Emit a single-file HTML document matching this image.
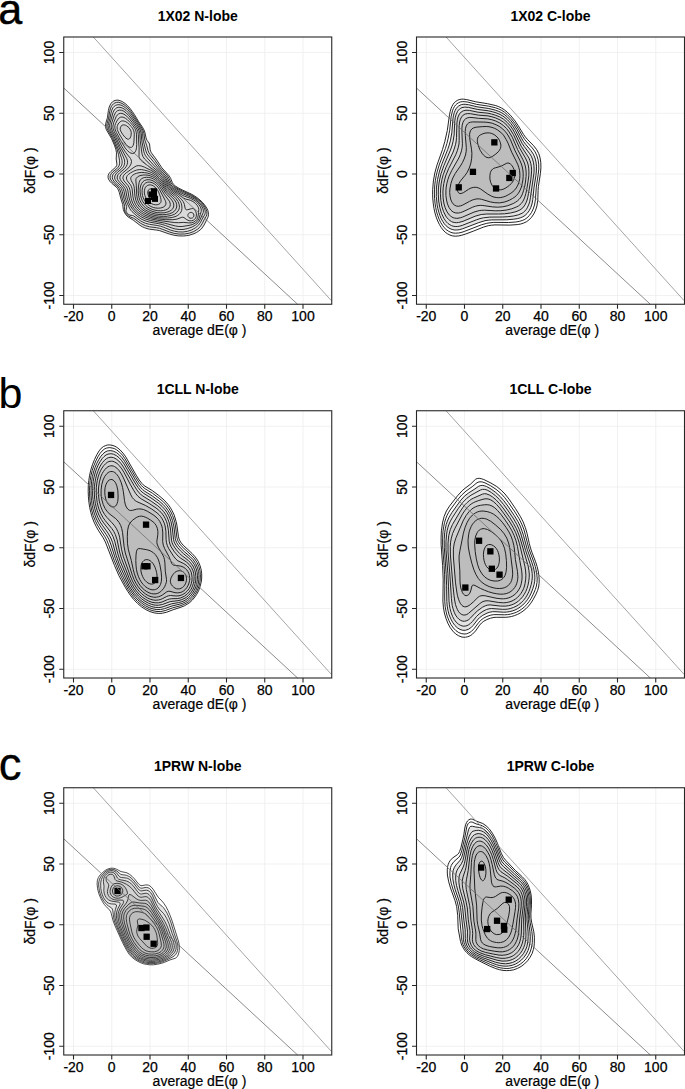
<!DOCTYPE html>
<html><head><meta charset="utf-8"><style>
html,body{margin:0;padding:0;background:#fff;}
svg{display:block;}
text{font-family:"Liberation Sans",sans-serif;fill:#000;}
.tl{font-size:14px;stroke:#000;stroke-width:0.25px;}
.al{font-size:14px;stroke:#000;stroke-width:0.2px;}
.ti{font-size:14px;font-weight:bold;}
.pl{font-size:43px;}
</style></head><body>
<svg width="685" height="1089" viewBox="0 0 685 1089">
<rect width="685" height="1089" fill="#fff"/>
<path d="M73.5 37V304.25M111.75 37V304.25M150 37V304.25M188.25 37V304.25M226.5 37V304.25M264.75 37V304.25M303 37V304.25M63.75 295.5H331.75M63.75 234.75H331.75M63.75 174H331.75M63.75 113.25H331.75M63.75 52.5H331.75" stroke="#eeeeee" stroke-width="0.8" fill="none"/>
<path d="M183.3 236l2.9-.3 2.8-.4 5-1.6 2.5-1.2 2-1.3 1.9-1.4 1.6-1.7 2.1-3.1 3.6-7.2 .6-1.6 .2-1.7-.1-2-.5-2-.9-2-1.7-2.7-2.4-3-2.9-2.8-3.1-2.5-2.7-1.8-3-1.7-9-4.1-4-2.1-3-1.9-1.8-1.7-1-1.4-1.7-4.3-1.4-2.5-7.4-8.2-5.1-7.7-5.4-7.3-.8-1.6-.4-1.4-.7-5.8-.5-1-1.8-2.5-.8-1.5-.5-1.8-.9-4.4-1-2.8-1.5-2.8-3.9-5.7-4.1-6.8-2.3-3.4-2.2-2.9-2.5-2.8-2.5-2.2-2.5-1.7-2.3-1-2.2-.6-2 .1-2 .6-1.5 1-1.3 1.4-1.1 1.8-.9 2.1-.8 3.4-1 7.3-1.7 5.7-.2 2.5 .2 1.8 .7 2 5.3 9 2.7 6.4 1.4 4 .7 3.6-.3 6.2 .7 5.2-.3 1.6-1 1.4-4.8 4.3-1.6 1.7-1 2-.2 2 .5 2 1.3 2 1.9 2 4.7 4 1.1 1.3 .9 1.5 .8 2.2 1.8 7 1.7 5.3 .6 5 1 2.7 1.7 2.7 2.2 2.1 5 3.1 6.8 5.2 2.2 1.4 2.6 1.1 2.2 .8 2.5 .6 7.3 .9 3 .6 9.5 3.3 4.5 1.2 4.7 .7 4.7 .1z" fill="#e6e6e6" stroke="none"/>
<path d="M183 229.5l4.2-.8 4.8-1.6 3.5-2 2.6-2.3 1.8-2.8 3.4-7.5 .1-1.3-.1-1.2-.4-1.5-.7-1.5-1.4-2.2-1.8-2-2.2-2-2.4-1.8-4.1-2.2-6.8-2.7-2.7-1.3-7.6-4.5-1.6-1.3-1.4-1.3-1.5-2.2-2.8-5.3-1.7-2.4-2.1-2.3-6.8-6.5-8.2-9.2-1.9-2.6-.7-1.6-.6-1.8-1.9-9.8-.4-2.8-.3-5.4-.7-2.8-.8-2-1.1-2-6.2-9-2.3-3.1-2-2.3-2.2-2.2-2-1.5-2-1-2-.6-1.8 0-1.7 .6-1 .7-1.1 1.2-.7 1.2-.8 1.8-3.1 11.2-.2 1.8 .1 1.7 .4 1.5 .7 1.8 4.1 7.4 8.5 18.8 1.1 3 .2 2.5-.4 2.3-.9 2-1.7 2-4.2 3.4-1.6 1.8-1.1 2-.2 2 .5 1.5 .9 1.5 1.4 1.5 3.9 3.7 1.8 2.6 .9 2.4 1.2 6.1 1 3.5 1.4 3.4 2.3 4.6 .9 1.4 1.1 1.3 5.3 4.7 3.8 2.7 4 1.9 4.8 1.4 9 1.5 3.4 .8 3.2 1 6.5 2.5 3.3 1 4 .5 3.8 0z" fill="#dadada" stroke="none"/>
<path d="M128.6 139.2l.6-.2 .8-.8 .7-1.4 .4-1.6 .2-2.7-.7-2.5-1.6-2.3-2.3-1.9-1.2-.6-1.3-.3-1 0-1 .3-1.2 1-.7 1.6-.1 1.7 .7 2 1.6 2.7 2.5 3.1 2 1.6 .8 .3 .7 .1zM167.3 216.2l3.9-.7 3.3-1.2 2.4-1.8 1.7-2.3 .5-1.2 .3-1.5 0-1.5-.2-1.5-1.2-3-1.9-2.7-2.2-2.3-4.7-3.8-2-2-1.7-2.2-4-6-2.5-3-2.8-2.4-3-1.9-2.7-1.2-3-.9-3-.5-2.7-.2-2.8 .3-2.5 .6-2.3 .9-1.9 1.3-.8 .9-.5 .8-.3 1 .1 1 .5 1.6 1.9 3.3 .8 2.1 .3 2.3 .6 7.5 .9 4.2 1.5 3.6 2.3 3.2 2.4 2.4 2.8 2 3 1.7 3.4 1.4 3.9 1 4.1 .7 4.3 .2 3.7-.1z" fill="#d0d0d0" stroke="none"/>
<path d="M183.3 236l2.9-.3 2.8-.4 5-1.6 2.5-1.2 2-1.3 1.9-1.4 1.6-1.7 2.1-3.1 3.6-7.2 .6-1.6 .2-1.7-.1-2-.5-2-.9-2-1.7-2.7-2.4-3-2.9-2.8-3.1-2.5-2.7-1.8-3-1.7-9-4.1-4-2.1-3-1.9-1.8-1.7-1-1.4-1.7-4.3-1.4-2.5-7.4-8.2-5.1-7.7-5.4-7.3-.8-1.6-.4-1.4-.7-5.8-.5-1-1.8-2.5-.8-1.5-.5-1.8-.9-4.4-1-2.8-1.5-2.8-3.9-5.7-4.1-6.8-2.3-3.4-2.2-2.9-2.5-2.8-2.5-2.2-2.5-1.7-2.3-1-2.2-.6-2 .1-2 .6-1.5 1-1.3 1.4-1.1 1.8-.9 2.1-.8 3.4-1 7.3-1.7 5.7-.2 2.5 .2 1.8 .7 2 5.3 9 2.7 6.4 1.4 4 .7 3.6-.3 6.2 .7 5.2-.3 1.6-1 1.4-4.8 4.3-1.6 1.7-1 2-.2 2 .5 2 1.3 2 1.9 2 4.7 4 1.1 1.3 .9 1.5 .8 2.2 1.8 7 1.7 5.3 .6 5 1 2.7 1.7 2.7 2.2 2.1 5 3.1 6.8 5.2 2.2 1.4 2.6 1.1 2.2 .8 2.5 .6 7.3 .9 3 .6 9.5 3.3 4.5 1.2 4.7 .7 4.7 .1zM184.7 234l4.8-.9 4.3-1.6 3.7-2.3 1.7-1.4 1.3-1.6 1.6-2.4 2-4 2.1-3.6 .6-1.4 .1-1.6-.1-1.7-.5-1.7-.9-2-1.6-2.6-2.3-2.7-2.7-2.5-2.9-2.2-5-3-8.4-3.7-4.3-2.2-4-2.5-2.1-1.9-1.1-1.6-1.9-4.4-1.5-2.5-1.6-2-5.9-6.2-5.3-7.5-4.5-5.5-1.4-2-.9-2.3-1.4-5.3-1.8-5.2-.9-6.8-1-3-1.7-3.2-9-13.7-2.2-3-2.2-2.5-2.6-2.3-2.2-1.5-2.2-1.1-2.3-.6-2 .1-1.7 .6-1.3 .8-1.3 1.4-1 1.6-.8 2-.8 3-1 6.4-1.6 5.6-.2 2.7 .3 1.7 .7 1.8 4.8 8.5 4.6 11 1.3 5 1.1 6.3 .1 2.4-.5 2.3-1.1 1.7-1.4 1.6-4 3.2-1.5 1.8-.9 1.7-.2 2 .4 1.7 1.3 2 1.7 1.8 4.5 4 1.2 1.5 .8 1.5 .7 2 1.7 7 2 6 .2 1.5-.1 3.3 .3 1.3 .6 1.4 1.4 2 2 1.6 1.4 .8 3.6 1.4 6.7 4.9 2.5 1.4 2.5 1.1 4 1.1 7 .9 3 .6 2.7 .9 7.6 2.9 4.4 1.3 5.3 .7 5-.1zM183 232l4.5-.7 4.3-1.4 4-2.3 3-2.7 1.8-2.7 2.1-4.2 1.8-3 .5-1.2 .3-1.6-.2-1.4-.4-1.6-.8-1.7-1.4-2.3-2.1-2.4-2.4-2.3-2.9-2.3-4.6-2.6-7.3-3-3.4-1.7-6-3.6-1.6-1.1-1.2-1.2-1.3-2-2.4-5-1.5-2.2-7.8-8.3-5-6.3-4.4-5.2-1.6-2.2-1.2-3-2.4-9.6-.4-2.4-.4-5.3-.8-3-1.8-3.5-8-12-2.2-2.9-2-2.3-2.3-2-2.3-1.6-2.2-1.1-2-.4-1.8 .1-1.7 .6-1.3 .9-1 1.1-.9 1.6-.7 1.8-.6 2.2-1.1 5.5-1.5 5.3-.3 1.7 .1 1.5 .3 1.5 .7 1.7 4.4 8 5.4 12.6 2.7 8 .4 2 .1 2-.5 2.4-1.2 2-1.5 1.7-4.2 3.5-1.6 1.8-.8 1.8-.1 1.8 .4 1.4 1.1 1.8 1.5 1.8 4.4 4 1.2 1.4 .8 1.6 .6 2 1.8 7.4 2.5 7.3 0 1.3-.6 2.4 .1 1 .4 1 1 1.4 1.3 1 1.2 .6 2.5 .3 1 .3 7 5 2.5 1.4 2.8 1.2 3.7 .9 7.7 1.2 3.3 .7 3 1 6.8 2.8 4.1 1.2 4.1 .7 4.3 .1zM183 229.5l4.2-.8 4.8-1.6 3.5-2 2.6-2.3 1.8-2.8 3.4-7.5 .1-1.3-.1-1.2-.4-1.5-.7-1.5-1.4-2.2-1.8-2-2.2-2-2.4-1.8-4.1-2.2-6.8-2.7-2.7-1.3-7.6-4.5-1.6-1.3-1.4-1.3-1.5-2.2-2.8-5.3-1.7-2.4-2.1-2.3-6.8-6.5-8.2-9.2-1.9-2.6-.7-1.6-.6-1.8-1.9-9.8-.4-2.8-.3-5.4-.7-2.8-.8-2-1.1-2-6.2-9-2.3-3.1-2-2.3-2.2-2.2-2-1.5-2-1-2-.6-1.8 0-1.7 .6-1 .7-1.1 1.2-.7 1.2-.8 1.8-3.1 11.2-.2 1.8 .1 1.7 .4 1.5 .7 1.8 4.1 7.4 8.5 18.8 1.1 3 .2 2.5-.4 2.3-.9 2-1.7 2-4.2 3.4-1.6 1.8-1.1 2-.2 2 .5 1.5 .9 1.5 1.4 1.5 3.9 3.7 1.8 2.6 .9 2.4 1.2 6.1 1 3.5 1.4 3.4 2.3 4.6 .9 1.4 1.1 1.3 5.3 4.7 3.8 2.7 4 1.9 4.8 1.4 9 1.5 3.4 .8 3.2 1 6.5 2.5 3.3 1 4 .5 3.8 0zM182.1 226.5l6.9-1.1 3.2-.8 2.8-1.3 2-1.7 1-1.4 1-1.7 2.2-7 .1-1.3-.1-1.2-1-2.5-1.2-1.7-1.5-1.8-1.7-1.5-2.1-1.5-3.5-1.8-5.7-2-2.3-1-9-5.7-2.4-1.7-1.3-1.3-1.1-1.5-3.6-6.3-2.5-3.2-2.5-2.5-7.1-6-8.1-8-1.7-2.5-.9-2.7-1.8-13.3-.4-7.3-.7-2.4-1.1-2.6-2-3-5.2-7.2-2.3-2.7-2.3-2.3-2.4-1.8-2.3-.9-2-.2-2 .6-1 .8-.9 1-1.5 3-2.7 8.5-.2 2 .1 2 1.1 3.2 3.5 6.3 4.1 8.8 6.6 11.9 .7 2 .3 2-.4 2.3-1.1 2.3-1.6 2-4.5 3.7-1.7 1.7-.9 1.8-.3 2 .5 1.5 .9 1.5 4.8 5 1.7 2.5 .9 2.5 1 5.8 .8 3 1 3 1.4 2.7 2.7 4 3.7 3.9 4.3 3.2 4.4 2.3 5.3 1.6 14 2.6 11 2.9 3.3 .5 3.2 0zM191.6 222.8l1.9-.6 1.9-1.2 1.4-1.5 .9-2 .6-2.5 .5-5.5-.3-1.7-1-2-1.9-2.3-2.6-2-2.8-1.3-4.4-1.1-2-.9-13-9.1-1.5-1.3-1.3-1.5-4.7-7.5-3.1-3.6-3.4-2.9-14-10.3-2.2-2-1.2-1.8-.4-1.7 .1-8.7-.6-8-.2-5.3-.4-2.7-1-2.6-1.7-2.8-3-4-3.4-4.2-2.6-2.4-2.2-1.6-2-.8-1.8-.1-1.7 .7-1.3 1.1-1 1.5-2.6 6.2-.7 3.2 0 1.5 .3 1.5 1.1 2.8 3.1 5.7 4.6 9.2 3.5 5.5 5 6.3 .7 1.5 .3 1.5-.4 2.3-1.3 2.4-2.1 2.6-4.9 4-1.5 1.4-1.2 2-.2 1 0 1 .4 1.3 .9 1.5 4.3 4.8 1.6 2.4 .8 2.6 1 6.2 .8 3.2 1.3 3.4 1.8 3.2 1.5 2 1.8 2 1.9 1.7 2.3 1.7 2.2 1.5 2.5 1.2 5.2 1.9 7.6 1.5 17 2.3 3.7 .1 5.3-.3 5 .5 2.7-.1zM132.9 153.5l1.3-.5 1-1.1 .8-1.7 .5-2.4 .2-3.3-.2-9.7-.2-2-.5-2-1-2.4-1.8-2.6-2.8-3.3-2.7-2.7-2-1.5-1.7-.9-1.8-.4-1.5 .2-1.3 .7-1.2 1.3-1.2 1.9-1.2 2.4-.6 1.7-.2 1.6 .1 1.4 .4 1.8 1.1 2.5 5.6 10.4 3.2 5.1 2 2.4 2 1.8 1.8 1 1.8 .3zM191.7 220.8l1.5-.5 1.3-.9 1-1.2 .7-1.4 .2-1.8-.1-1.8-.6-1.7-.9-1.7-1-.9-1-.4-1.3 .2-4.3 1.1-.7 0-.7-.3-.7-1.3-.7-3.7-.5-1.5-.8-1.5-1.3-1.7-2.1-2.3-2.2-2-6.7-4.9-2-1.8-1.9-2.3-3.7-5.6-2-2.7-2.7-2.8-3.3-2.4-4.7-2.9-6.3-3.1-3.2-1.1-2.8-.3-2 .4-2.2 1.3-7.7 5.5-1.5 1.2-1 1.2-.8 1.8-.1 1 .2 1 1 2 3.9 4.5 1.3 2.3 .7 2.4 1.2 8.3 .7 2.5 .9 2.2 1.6 2.8 2.1 2.7 2.5 2.5 2.7 2 3.3 2 3.8 1.5 4.2 1.3 4.8 .9 8 .8 7 0 4.2-.6 4.8-1.8 1-.1 1.2 .4 2.5 1.9 1.5 .8 1.8 .5 1.7 0zM131.6 147.2l.9-.6 .6-1.1 .5-1.5 .3-1.8 .4-8-.2-2-.6-2-1-2-1.3-1.7-1.7-1.9-2-1.8-1.7-1.1-1.6-.6-1.4-.2-1.6 .2-1 .7-1.1 1-1 1.2-.6 1.4-.4 1.4 0 1.2 .2 1.5 .5 1.4 1.2 2.6 4.2 7 2.8 3.9 1.5 1.6 1.5 1 1.2 .4 1.3-.1zM167.6 218l4.6-.5 3.8-1.2 1.5-.8 1.4-1 1.2-1.3 .9-1.2 .6-1.5 .3-1.7 0-1.8-.2-2-.5-1.8-.8-1.7-2.3-3.3-2.6-2.4-5.5-4.2-2-1.9-1.8-2.2-4.4-6.7-2.8-3.1-3.2-2.7-4-2.3-3.6-1.5-3.4-1-3-.6-2.6 0-2.7 .5-2.7 1-3.1 1.7-2.4 1.7-1.1 1.2-.5 1.1-.3 1.2 .2 1.2 .7 1.6 3.2 4 1 2 .7 2.4 .7 7.3 .8 3.7 1.7 4 1.3 2 1.4 1.8 2.6 2.5 2.8 2 3.3 1.8 3.4 1.4 4 1.1 4.3 .8 4.5 .4 4.5 0zM191.4 218.2l1.1-.3 .8-.7 .5-1 .1-1.2-.4-1.2-.7-.8-1-.5-1-.1-1.3 .4-.9 .7-.6 1-.1 1 .3 1.2 .8 .9 1 .5 1.2 .2zM128.6 139.2l.6-.2 .8-.8 .7-1.4 .4-1.6 .2-2.7-.7-2.5-1.6-2.3-2.3-1.9-1.2-.6-1.3-.3-1 0-1 .3-1.2 1-.7 1.6-.1 1.7 .7 2 1.6 2.7 2.5 3.1 2 1.6 .8 .3 .7 .1zM167.3 216.2l3.9-.7 3.3-1.2 2.4-1.8 1.7-2.3 .5-1.2 .3-1.5 0-1.5-.2-1.5-1.2-3-1.9-2.7-2.2-2.3-4.7-3.8-2-2-1.7-2.2-4-6-2.5-3-2.8-2.4-3-1.9-2.7-1.2-3-.9-3-.5-2.7-.2-2.8 .3-2.5 .6-2.3 .9-1.9 1.3-.8 .9-.5 .8-.3 1 .1 1 .5 1.6 1.9 3.3 .8 2.1 .3 2.3 .6 7.5 .9 4.2 1.5 3.6 2.3 3.2 2.4 2.4 2.8 2 3 1.7 3.4 1.4 3.9 1 4.1 .7 4.3 .2 3.7-.1zM166.3 214.5l3.2-.7 2.7-1.1 2.2-1.5 1.5-2 .8-2.2 0-2.2-.7-2.6-1.6-2.4-1.7-2-4.5-4-1.7-1.9-5-7.3-2.3-2.9-2.2-2.2-2.5-1.8-2-1-2.3-.9-2.2-.6-2.5-.2-2.3 0-2.2 .4-2 .6-1.6 1-1.2 1.3-.4 1.7 .5 5.2 .4 9.6 .5 3.2 .8 2.8 1.2 2.4 1.5 2.3 2.1 2.3 2.4 2 3 1.7 3.3 1.4 3.5 1 3.8 .6 3.7 .2 3.7-.2zM164.1 212.8l2.8-.6 2.3-.8 2-1.2 1.6-1.5 .8-1.7 .2-2-.3-2-1.2-2.2-1.5-2-5.2-5.6-4.4-6.7-1.7-2.4-2-2.2-2-1.6-1.7-1.1-1.8-.9-1.8-.6-2-.3-1.7-.1-1.7 .2-1.6 .4-1.4 .7-1.6 1.4-1 2.2-.7 3.8-.3 4.2 .2 3.8 .7 3.8 1 3 1.5 2.7 1.8 2.3 2.1 1.9 2.5 1.7 2.8 1.4 3.2 1.1 3.2 .7 3.6 .3 3.2-.1zM161 210.8l2.5-.3 2.3-.6 1.8-.9 1.5-1.2 .9-1.6 .3-1.4-.2-1.8-.7-1.8-4.9-6.5-5-8.2-1.7-2.1-1.8-1.6-3-2-3-1-3-.1-2.5 .8-1.7 1.3-1.2 1.7-1 2.5-.5 2.8 0 3.2 .4 3.2 .8 3 1.2 2.9 1.4 2.1 1.6 1.9 2 1.8 2.3 1.4 2.4 1.1 2.8 .8 2.8 .5 3 .1zM160.6 208l2.4-.7 1.7-1.1 1-1.4 .3-1.8-.3-1.2-.6-1.6-5.6-10.7-1.5-2.3-1.5-1.7-1.7-1.4-1.8-1.1-2-.7-1.8-.2-1.8 .1-1.6 .7-1.6 1.3-1 1.6-.7 2-.4 2.4 0 2.6 .4 2.7 .8 2.5 1.2 2.4 1.3 1.8 1.6 1.8 1.8 1.4 2 1.2 2.3 .9 2.3 .5 2.4 .2 2.3-.2zM157.1 204.8l1.7-.5 1.2-.8 .7-1 .4-1.3-.1-1.7-.4-2-.9-2.7-1.1-2.8-1.1-2-1.3-1.7-1.2-1.2-1.4-1.1-1.6-.8-1.5-.3-1.5 0-1.2 .4-1.3 .8-1 1.1-.7 1.6-.3 1.4-.2 1.8 .2 2 .5 1.8 .8 1.9 .8 1.5 1.2 1.6 1.2 1.2 1.5 1.1 1.5 .8 1.8 .6 1.7 .3 1.5 0zM154.4 199.8l1.2-.8 .7-1.5 0-2.3-.6-2.2-1.2-2-1.5-1.4-1.8-.7-1.4 .1-1.3 .9-.7 1.6-.1 2 .6 2 1 1.7 1.5 1.6 1.7 .8 1.7 .2z" fill="none" stroke="#111111" stroke-width="0.85"/>
<rect x="150.9" y="188.2" width="6.1" height="6.1" fill="#000"/><rect x="148.4" y="191.4" width="6.1" height="6.1" fill="#000"/><rect x="151.9" y="195.8" width="6.1" height="6.1" fill="#000"/><rect x="144.9" y="197.9" width="6.1" height="6.1" fill="#000"/><rect x="150.9" y="193.9" width="6.1" height="6.1" fill="#000"/>
<path d="M93.3 37L331.4 300.7" stroke="#8e8e8e" stroke-width="0.8" fill="none"/>
<path d="M63.75 88L297.6 304.25" stroke="#6e6e6e" stroke-width="0.8" fill="none"/>
<rect x="63.75" y="37" width="268" height="267.25" fill="none" stroke="#262626" stroke-width="1.1"/>
<path d="M73.5 304.25v4.5M111.75 304.25v4.5M150 304.25v4.5M188.25 304.25v4.5M226.5 304.25v4.5M264.75 304.25v4.5M303 304.25v4.5M63.75 295.5h-4.5M63.75 234.75h-4.5M63.75 174h-4.5M63.75 113.25h-4.5M63.75 52.5h-4.5" stroke="#262626" stroke-width="1.1" fill="none"/>
<text x="73.5" y="320.75" class="tl" text-anchor="middle">-20</text>
<text x="111.75" y="320.75" class="tl" text-anchor="middle">0</text>
<text x="150" y="320.75" class="tl" text-anchor="middle">20</text>
<text x="188.25" y="320.75" class="tl" text-anchor="middle">40</text>
<text x="226.5" y="320.75" class="tl" text-anchor="middle">60</text>
<text x="264.75" y="320.75" class="tl" text-anchor="middle">80</text>
<text x="303" y="320.75" class="tl" text-anchor="middle">100</text>
<text transform="translate(54.25 295.5) rotate(-90)" class="tl" text-anchor="middle">-100</text>
<text transform="translate(54.25 234.75) rotate(-90)" class="tl" text-anchor="middle">-50</text>
<text transform="translate(54.25 174) rotate(-90)" class="tl" text-anchor="middle">0</text>
<text transform="translate(54.25 113.25) rotate(-90)" class="tl" text-anchor="middle">50</text>
<text transform="translate(54.25 52.5) rotate(-90)" class="tl" text-anchor="middle">100</text>
<text x="199.55" y="334.75" class="al" text-anchor="middle">average dE(φ )</text>
<text transform="translate(34.75 170.62) rotate(-90)" class="al" text-anchor="middle">δdF(φ )</text>
<text x="197.75" y="20.7" class="ti" text-anchor="middle">1X02 N-lobe</text>
<path d="M426.25 37V304.25M464.5 37V304.25M502.75 37V304.25M541 37V304.25M579.25 37V304.25M617.5 37V304.25M655.75 37V304.25M416.5 295.5H684.5M416.5 234.75H684.5M416.5 174H684.5M416.5 113.25H684.5M416.5 52.5H684.5" stroke="#eeeeee" stroke-width="0.8" fill="none"/>
<path d="M456.9 230l2.9-.4 3-.9 16-6.1 6.2-1.9 3.2-.5 3.6-.3 15-.1 7-.6 3.4-.5 3-.8 2.6-1.1 2.2-1.3 2.2-2.1 2-2.7 1.6-3.2 1.2-3.5 .8-4.5 1.2-11.7 1.9-12 .5-4.8 .1-4.8-.5-4.2-1-4-1.6-3.8-2.5-3.7-5.1-6-2.3-3-2-3.4-4.7-8.9-3-4.7-3-3.9-3.3-3.5-2.7-2.3-3-2-3-1.4-3.6-1.3-6.4-1.6-11.8-1.7-8.5-2.1-3.3-.4-2 0-1.7 .3-1.5 .6-1.5 .9-1.3 1.1-1.2 1.6-.9 1.7-.8 2-.8 2.7-.5 3-1.2 14.6-1.3 7.4-1.3 4.8-1.5 4.5-5.9 14.7-2.3 6.8-2 8.5-1.1 8.5-.1 8.5 .8 8.3 .7 3.7 1 3.7 1.2 3.6 1.2 2.9 1.6 2.8 1.5 2.3 1.8 2 1.9 1.6 2 1.2 2.2 .9 2.3 .5 2.3 0z" fill="#e4e4e4" stroke="none"/>
<path d="M458.7 222.5l4.3-1.2 12.2-5.1 6-1.7 5.6-.5 11.7 0 6-.2 6-.8 5.5-1.3 3.9-1.7 2.9-2.1 2.2-3 1.8-3.9 .9-3.2 .8-4.3 2.3-13.7 .6-5.8 .2-3.8-.2-3.4-.6-3.3-.9-3-.9-2.3-1.4-2.4-6.4-9.6-6.5-13.4-2-3.6-2.2-3.1-3.3-3.7-3.6-3.2-3.8-2.3-4.6-1.8-3.6-1.1-3.6-.8-10-1-8.5-1.8-3.5-.2-2.7 .6-2.1 1.2-1.8 2-1.4 3-.7 2.8-.4 3.2-.4 14.5-.3 3.5-.6 3.2-1.1 3.8-1.4 4-7.1 15.2-2.8 7.5-1.2 4.5-.9 4.8-.5 5-.2 4.8 .4 6.4 1 6 1.7 5.3 2.2 4.5 1.3 1.8 1.5 1.6 1.5 1.2 1.5 1 1.5 .6 1.8 .4 1.7 .1 2-.2z" fill="#d2d2d2" stroke="none"/>
<path d="M458.6 213l1.9-.4 2.3-.8 10-4.7 2.7-.9 2.5-.6 2.2-.2 2.6 .1 9.7 1.4 5 .3 5.3-.4 5-1.1 5.5-2.2 2.3-1.3 1.9-1.3 1.5-1.4 1.3-1.5 1.2-2 1-2.2 1.2-3.6 1.1-4.2 .8-5 .5-4.5 .1-3.7-.3-3.6-.6-3.2-.9-3-1.7-3.8-5.1-9.7-5.3-12.3-3.1-5.2-2.7-3.6-3.3-3-3.4-2.4-4-2-4-1.3-4-.8-9.3-.6-6.5-.8-2.2-.1-2.3 .4-2 1-1.4 1.4-1.1 2-.8 2.8-.3 3.2 0 4 .5 11.6-.2 3.4-.7 3.6-1.1 3.4-1.6 3.8-7 12.3-2.8 5.9-1.2 3.6-.9 3.4-.7 3.8-.3 3.8 0 4.7 .6 4.5 1 4.1 1.5 3.4 2 2.8 2.2 1.8 2.6 .9 2.7 0z" fill="#c6c6c6" stroke="none"/>
<path d="M458.6 206.2l1.9-.3 2-.7 7-3.8 2.7-1.3 2.6-.8 2.2-.4 2.2 0 2.3 .4 8.7 2.6 4.6 .8 4.7 .2 4.7-.8 2.8-.9 2.8-1.2 2.7-1.5 2.3-1.5 1.7-1.5 1.5-1.7 1.2-1.8 1-2 1.2-3 .8-3.3 .7-3.7 .3-3.5 0-3.3-.3-3.2-.6-3-.9-3-1.6-3.8-4.7-9.4-4.6-11-2.6-4.8-2.4-3.2-2.7-2.8-3-2.3-3.6-1.9-4-1.6-4.2-.8-3-.3-12.2-.2-2.3 .3-1.7 .6-1.4 1.2-1.1 1.8-.8 2.4-.3 3.3 .1 4 1 12-.1 3.7-.7 3.8-1.4 4-1.8 3.8-1.9 3.2-5.2 7.5-2.4 4.5-1 2.7-.9 2.8-1 5.5-.2 3.5 .3 3.5 .6 3 1.1 2.8 1.3 2 1.6 1.4 1.9 .9 2 .2z" fill="#bdbdbd" stroke="none"/>
<path d="M458.2 236l3-.6 4-1.2 8-3 10-4 5-1.5 3.3-.5 3.5-.3 14.8 .2 7.4-.5 3.6-.6 3-1 2.6-1.2 2.4-1.7 2.7-2.8 2.3-3.3 1.8-3.8 1.3-4.2 .9-5.8 .3-9.7 .3-4 2-13 .5-5.7-.1-5-.7-4.8-1.3-4.3-2-3.9-3.1-4-5.9-6-2.3-2.6-2-2.8-5.2-8.6-3.2-4.8-4.1-5.1-4-4-2.8-2.2-2.7-1.7-2.7-1.3-3-1.1-8.3-1.9-11.7-1.9-9-2.2-3.6-.5-2 .1-2 .4-1.7 .7-1.7 1.1-1.6 1.4-1.2 1.7-1.1 2-.9 2.3-.8 2.7-.7 3.3-2.2 15.7-2.5 11-2.3 8-5.5 15.6-2.2 7.9-1.4 8-.7 8.2-.1 5 .2 4.8 .5 4.8 .7 4.7 1 4.5 1.2 4.1 1.5 3.9 1.7 3.5 1.8 3 1.9 2.5 2.1 2.2 2.3 1.6 2.5 1.3 2.5 .8 2.7 .3 2.8-.2zM458.5 233l2.5-.5 3.2-1 17-6.6 5.6-1.6 3.2-.5 3.8-.4 14.7 .1 7.3-.5 3.4-.6 3-.9 2.6-1.1 2.2-1.6 2.4-2.3 2.1-3 1.7-3.5 1.3-4 .9-5.2 .9-12.8 1.9-12.5 .6-5.5-.1-4.8-.6-4.4-1.2-4-1.7-3.8-2.9-4-5.5-6-2-2.4-2-3-4.8-8.4-3-4.7-3.8-4.9-4-4.1-2.7-2.3-2.7-1.8-3-1.4-3.3-1.2-6.7-1.6-12-1.8-9-2.3-3.6-.5-2 .1-2 .3-1.7 .8-1.5 .9-1.4 1.3-1.1 1.5-1.1 2-.9 2.3-1.3 5.4-1.5 14-1.5 8-1.3 5.3-1.5 5-5.9 15.5-2.2 7.2-1.1 4.6-.8 4.4-.6 4.6-.3 4.4-.1 4.8 .2 4.5 .4 4.5 .7 4.5 .9 4.3 1.2 3.9 1.3 3.5 1.6 3.3 1.7 2.7 1.8 2.5 2 1.9 2.3 1.6 2.3 1.1 2.2 .7 2.5 .2 2.7-.2zM456.9 230l2.9-.4 3-.9 16-6.1 6.2-1.9 3.2-.5 3.6-.3 15-.1 7-.6 3.4-.5 3-.8 2.6-1.1 2.2-1.3 2.2-2.1 2-2.7 1.6-3.2 1.2-3.5 .8-4.5 1.2-11.7 1.9-12 .5-4.8 .1-4.8-.5-4.2-1-4-1.6-3.8-2.5-3.7-5.1-6-2.3-3-2-3.4-4.7-8.9-3-4.7-3-3.9-3.3-3.5-2.7-2.3-3-2-3-1.4-3.6-1.3-6.4-1.6-11.8-1.7-8.5-2.1-3.3-.4-2 0-1.7 .3-1.5 .6-1.5 .9-1.3 1.1-1.2 1.6-.9 1.7-.8 2-.8 2.7-.5 3-1.2 14.6-1.3 7.4-1.3 4.8-1.5 4.5-5.9 14.7-2.3 6.8-2 8.5-1.1 8.5-.1 8.5 .8 8.3 .7 3.7 1 3.7 1.2 3.6 1.2 2.9 1.6 2.8 1.5 2.3 1.8 2 1.9 1.6 2 1.2 2.2 .9 2.3 .5 2.3 0zM457.4 226.5l2.4-.4 2.4-.7 14-5.5 3.8-1.3 3.5-.8 6.3-.7 12.4-.1 5.6-.3 5.7-.7 4.7-1.1 3.8-1.6 1.5-1 1.4-1.3 1.3-1.5 1-1.6 1.8-3.9 .8-2.8 .6-3.4 3.6-25 .1-3.8-.2-3.5-.5-3.3-.9-3.1-1.2-2.9-1.5-2.4-5.6-7.3-2-3-6.7-13-2.3-3.7-2.2-3.1-3.5-3.9-3.5-3-3.8-2.3-4.2-1.7-3.8-1.1-4-.9-10.4-1.3-9.3-2.1-3.7-.3-2.8 .5-1.2 .6-1.3 .9-1 1-1 1.4-1.5 3.3-.7 2.7-.5 3.3-.7 14.2-1.1 6.8-1.1 4.2-1.5 4.2-6.6 15.6-2.8 8-1.2 5.1-.9 5.1-.5 5-.1 5.2 .4 6.8 1.1 6.5 1.7 5.9 2.3 4.8 1.3 2 1.4 1.8 1.5 1.5 1.8 1.2 1.7 .9 1.7 .6 2 .3 2 0zM458.7 222.5l4.3-1.2 12.2-5.1 6-1.7 5.6-.5 11.7 0 6-.2 6-.8 5.5-1.3 3.9-1.7 2.9-2.1 2.2-3 1.8-3.9 .9-3.2 .8-4.3 2.3-13.7 .6-5.8 .2-3.8-.2-3.4-.6-3.3-.9-3-.9-2.3-1.4-2.4-6.4-9.6-6.5-13.4-2-3.6-2.2-3.1-3.3-3.7-3.6-3.2-3.8-2.3-4.6-1.8-3.6-1.1-3.6-.8-10-1-8.5-1.8-3.5-.2-2.7 .6-2.1 1.2-1.8 2-1.4 3-.7 2.8-.4 3.2-.4 14.5-.3 3.5-.6 3.2-1.1 3.8-1.4 4-7.1 15.2-2.8 7.5-1.2 4.5-.9 4.8-.5 5-.2 4.8 .4 6.4 1 6 1.7 5.3 2.2 4.5 1.3 1.8 1.5 1.6 1.5 1.2 1.5 1 1.5 .6 1.8 .4 1.7 .1 2-.2zM458 218.2l2.2-.4 2.3-.7 11.5-5 5.2-1.5 2.6-.3 2.7-.1 10.7 .6 5.6-.1 5.4-.6 5.6-1.3 5-2 1.7-.9 1.5-1.2 1.3-1.2 1.2-1.6 1.1-1.9 .9-2.1 1.3-4.1 1.1-5.3 1.2-7.3 .7-5.4 .1-4-.2-3.6-.5-3.2-.9-3-2-4.2-5.8-10-6.1-13.3-3.4-5.5-3-3.7-3.2-2.9-3.8-2.5-4.2-1.9-3.8-1.2-4-.9-9.8-.8-7.7-1.4-2.7-.1-2.6 .4-2 1.1-1.5 1.7-1.3 2.4-.8 2.8-.4 3.5-.1 3.7 .1 11.3-.2 3.5-.7 3.2-1 3.6-1.6 4-6.9 13.5-2.8 6.7-1.2 4.1-1 4.4-.6 4.3-.3 4.2 .2 5.8 .7 5.2 1.4 4.8 1.8 4 2.2 3.1 1.3 1.1 1.4 1 1.3 .7 1.6 .4 1.4 .2 1.8 0zM458.6 213l1.9-.4 2.3-.8 10-4.7 2.7-.9 2.5-.6 2.2-.2 2.6 .1 9.7 1.4 5 .3 5.3-.4 5-1.1 5.5-2.2 2.3-1.3 1.9-1.3 1.5-1.4 1.3-1.5 1.2-2 1-2.2 1.2-3.6 1.1-4.2 .8-5 .5-4.5 .1-3.7-.3-3.6-.6-3.2-.9-3-1.7-3.8-5.1-9.7-5.3-12.3-3.1-5.2-2.7-3.6-3.3-3-3.4-2.4-4-2-4-1.3-4-.8-9.3-.6-6.5-.8-2.2-.1-2.3 .4-2 1-1.4 1.4-1.1 2-.8 2.8-.3 3.2 0 4 .5 11.6-.2 3.4-.7 3.6-1.1 3.4-1.6 3.8-7 12.3-2.8 5.9-1.2 3.6-.9 3.4-.7 3.8-.3 3.8 0 4.7 .6 4.5 1 4.1 1.5 3.4 2 2.8 2.2 1.8 2.6 .9 2.7 0zM458.6 206.2l1.9-.3 2-.7 7-3.8 2.7-1.3 2.6-.8 2.2-.4 2.2 0 2.3 .4 8.7 2.6 4.6 .8 4.7 .2 4.7-.8 2.8-.9 2.8-1.2 2.7-1.5 2.3-1.5 1.7-1.5 1.5-1.7 1.2-1.8 1-2 1.2-3 .8-3.3 .7-3.7 .3-3.5 0-3.3-.3-3.2-.6-3-.9-3-1.6-3.8-4.7-9.4-4.6-11-2.6-4.8-2.4-3.2-2.7-2.8-3-2.3-3.6-1.9-4-1.6-4.2-.8-3-.3-12.2-.2-2.3 .3-1.7 .6-1.4 1.2-1.1 1.8-.8 2.4-.3 3.3 .1 4 1 12-.1 3.7-.7 3.8-1.4 4-1.8 3.8-1.9 3.2-5.2 7.5-2.4 4.5-1 2.7-.9 2.8-1 5.5-.2 3.5 .3 3.5 .6 3 1.1 2.8 1.3 2 1.6 1.4 1.9 .9 2 .2zM500.9 197.5l2.3-.5 2.6-.9 2.4-1.3 2.6-1.5 2.2-1.7 1.8-1.7 1.4-1.8 1.1-1.9 1-2.2 .9-2.8 .5-2.7 .2-2.7-.1-2.8-.3-2.8-.7-2.7-.9-2.7-1.7-3.7-4.5-8.9-3.7-9.1-1.8-3.6-2.7-4.3-1.7-1.9-1.8-1.5-2.5-1.9-2.7-1.5-2.8-1-3-.7-2.8-.2-3.4 .1-6.6 .6-2.7 .7-1.5 .9-1.2 1.4-.8 1.8-.4 2.2 .2 4.8 1.7 10.2 .4 4.3-.2 4.7-.8 4.8-1.6 5-2.1 4.3-2 2.9-4.7 5.7-1.8 3.1-.8 2-.4 2-.1 2 .4 1.5 .5 1 .8 .7 .9 .4 1.2-.1 2.3-.9 5-3.3 2.5-1.3 2.8-.7 2.4 0 2 .5 2 .9 7.7 5.5 3.9 2.1 2.2 .8 2.2 .4 2.3 .2 2.3-.2zM488.8 157.8l1.7-.4 2.3-1.2 3-2.2 2.5-2.2 1.2-1.6 .9-1.7 .4-1.7 .1-1.8-.5-2.2-1-2.6-1.4-2.2-2-2-2-1.5-2.2-1-2.3-.6-2.5 0-2 .2-2.2 .7-2 .9-1.6 1-.9 1.1-.6 1.2-.3 1.5-.1 1.7 .5 2.8 1 3 1.4 3.3 1.8 2.9 1.5 1.9 1.7 1.5 1.8 .9 1.8 .3zM501 189.8l2-.5 2-.9 2.2-1.4 2.3-1.7 1.7-1.7 1.3-1.6 1-1.7 .7-1.8 .5-2.3 .1-2.2-.2-2.2-.6-2.3-1-2.3-1.2-1.9-1.3-1.2-1.5-.9-1-.2-1.2 .2-5.7 3-5.7 1.6-1.6 .5-1.1 .7-.9 .9-.8 1.2-.6 1.4-.5 3 0 3.5 .7 3.2 1.4 3 1.8 2.2 2 1.5 2.4 .8 2.6 .1z" fill="none" stroke="#111111" stroke-width="0.92"/>
<rect x="491.2" y="139.2" width="6.3" height="6.3" fill="#000"/><rect x="469.8" y="168.7" width="6.3" height="6.3" fill="#000"/><rect x="455.6" y="184.2" width="6.3" height="6.3" fill="#000"/><rect x="492.9" y="185.3" width="6.3" height="6.3" fill="#000"/><rect x="509.6" y="169.9" width="6.3" height="6.3" fill="#000"/><rect x="506.2" y="174.8" width="6.3" height="6.3" fill="#000"/>
<path d="M446.05 37L684.15 300.7" stroke="#8e8e8e" stroke-width="0.8" fill="none"/>
<path d="M416.5 88L650.35 304.25" stroke="#6e6e6e" stroke-width="0.8" fill="none"/>
<rect x="416.5" y="37" width="268" height="267.25" fill="none" stroke="#262626" stroke-width="1.1"/>
<path d="M426.25 304.25v4.5M464.5 304.25v4.5M502.75 304.25v4.5M541 304.25v4.5M579.25 304.25v4.5M617.5 304.25v4.5M655.75 304.25v4.5M416.5 295.5h-4.5M416.5 234.75h-4.5M416.5 174h-4.5M416.5 113.25h-4.5M416.5 52.5h-4.5" stroke="#262626" stroke-width="1.1" fill="none"/>
<text x="426.25" y="320.75" class="tl" text-anchor="middle">-20</text>
<text x="464.5" y="320.75" class="tl" text-anchor="middle">0</text>
<text x="502.75" y="320.75" class="tl" text-anchor="middle">20</text>
<text x="541" y="320.75" class="tl" text-anchor="middle">40</text>
<text x="579.25" y="320.75" class="tl" text-anchor="middle">60</text>
<text x="617.5" y="320.75" class="tl" text-anchor="middle">80</text>
<text x="655.75" y="320.75" class="tl" text-anchor="middle">100</text>
<text transform="translate(407 295.5) rotate(-90)" class="tl" text-anchor="middle">-100</text>
<text transform="translate(407 234.75) rotate(-90)" class="tl" text-anchor="middle">-50</text>
<text transform="translate(407 174) rotate(-90)" class="tl" text-anchor="middle">0</text>
<text transform="translate(407 113.25) rotate(-90)" class="tl" text-anchor="middle">50</text>
<text transform="translate(407 52.5) rotate(-90)" class="tl" text-anchor="middle">100</text>
<text x="552.3" y="334.75" class="al" text-anchor="middle">average dE(φ )</text>
<text transform="translate(387.5 170.62) rotate(-90)" class="al" text-anchor="middle">δdF(φ )</text>
<text x="550.5" y="20.7" class="ti" text-anchor="middle">1X02 C-lobe</text>
<path d="M73.5 410.75V678M111.75 410.75V678M150 410.75V678M188.25 410.75V678M226.5 410.75V678M264.75 410.75V678M303 410.75V678M63.75 669.25H331.75M63.75 608.5H331.75M63.75 547.75H331.75M63.75 487H331.75M63.75 426.25H331.75" stroke="#eeeeee" stroke-width="0.8" fill="none"/>
<path d="M160.6 609.5l3.9-.8 7.5-2.7 7.2-1.7 3.6-1.1 2.4-1.2 2.3-1.4 2-1.6 2-2 2.3-3 2-3.4 1.5-3.6 1.1-4 .5-4 .1-3.8-.4-3.7-1-3.7-1.9-4.3-2.7-4-2.8-2.8-6-5.2-3-2.9-2.7-3.1-1.7-2.7-.9-2-.6-2.3-1.3-11.5-1.5-6.6-1.3-3.5-1.4-3.4-1.8-3-1.9-2.7-3.1-3.5-3.8-3.3-7-5.1-8-5-1.7-1.5-1.5-1.5-2.5-3.1-2.9-4.6-11.1-19-2.5-3.5-2.5-2.7-3-2.4-3.3-1.5-3-.5-1.4 .1-1.6 .3-2.2 1.1-2 1.7-2.1 2.4-2.1 3.3-2 3.8-1.8 4.2-1.5 4.5-1.1 4.5-.8 4.7-.4 4.8-.2 4.8 .1 5 .4 4.7 .7 4.8 1 4.6 1.3 4.2 1.9 4.9 2.3 4.5 2.3 3.7 5.3 7.6 2.5 4.4 1.9 4.8 4.6 14.5 3.7 9.5 3.5 7.8 3.7 7.4 2.6 4.8 2.7 4.2 3.3 4.3 3.2 3.5 3.8 3.2 3.7 2.6 3.7 1.9 3.8 1.2 3.8 .7 3.7-.1z" fill="#e4e4e4" stroke="none"/>
<path d="M158.6 605.2l3.9-.7 7.7-2.9 7.8-.9 3.2-.8 3.8-1.7 1.8-1.2 1.7-1.5 2.3-2.6 1.9-2.9 1.5-3.2 1-3.3 .6-3.5 .1-3.5-.4-3.5-.8-3.2-1.7-3.8-2.4-3.2-2.6-2.6-5.8-4.4-2.7-2.4-3.8-4.4-2.5-3.8-1.1-2.4-.6-2.6-1-11.2-1.2-6-1.1-3.2-1.2-2.9-1.5-2.7-1.7-2.5-2.8-3.1-3.2-2.8-6.6-4.6-8.4-5.2-2-1.6-1.7-1.6-2.3-3-2.7-4.3-10.6-18.4-2.5-3.6-2.2-2.5-2.6-2-2.7-1.4-2.5-.4-2.5 .4-2 1-2 1.6-2 2.3-1.7 2.5-1.6 3-1.4 3.3-1.3 3.7-.9 3.8-.7 4-.5 4-.1 4 .1 4.2 .3 4.2 .6 4 .9 4 1 3.6 1.8 4.4 2.3 4.3 2.5 3.7 6.2 8 1.6 2.6 1.4 2.7 1.7 4.7 3.1 12.6 2.4 7.6 7.9 18.6 2.2 4.5 2.5 4.2 2.7 3.8 3 3.5 3.3 3 3.2 2.3 3.5 1.9 3.3 1.3 3.4 .7 3.3 .1z" fill="#d2d2d2" stroke="none"/>
<path d="M156.1 600.2l2.4-.2 2.3-.6 2-.9 4-2.1 1.7-.6 2-.3 5.5 .5 3-.2 3.2-1 3-1.8 2-1.9 1.8-2.3 1.4-2.6 .9-2.7 .6-2.7 .2-3-.3-2.8-.6-2.8-.9-2-1-1.7-1.2-1.5-1.3-1.4-3-2-5.9-2.8-2.1-1.8-2.3-2.9-5-7.9-1.3-3-.8-3-.3-2.7-.2-8.3-.8-5.2-.8-2.8-1.1-2.4-1.2-2.3-1.4-2-1.6-1.9-2-1.8-5.3-3.8-6.5-3.7-8.4-3.7-1.6-1-1.2-1.1-1.7-2-1.4-2.5-7.4-17-2-3.9-2-3.1-2.5-2.8-2.5-1.7-1.3-.5-1.2-.2-1.2 0-1.3 .3-1.5 .7-1.7 1.2-1.4 1.5-1.4 1.9-1.3 2.1-1.2 2.7-1.6 5.6-.9 6.2-.1 6.5 .8 6.5 1.6 5.7 1.7 4.2 2.1 3.6 2.4 3 5 5.3 2.1 2.4 2.1 3 1.6 3.3 1 2.7 .8 3 2 12.6 1.6 6.4 7.5 20.8 1.8 4.1 2 3.7 2.2 3.4 2.4 3 2.7 2.7 2.7 2.2 3 1.9 2.7 1.2 3 .8 2.8 .3z" fill="#c6c6c6" stroke="none"/>
<path d="M156.3 597.2l2.2-.4 2.1-.8 2.1-1.2 3.8-2.8 1.7-.7 1.8 0 5 1.4 2.8 .2 3-.5 1.4-.6 1.6-1 1.7-1.5 1.4-1.8 1.3-2.3 .8-2.2 .6-2.5 .1-2.5-.3-2.5-.6-2.2-.9-1.8-1.1-1.6-1.4-1.4-1.6-1.1-1.8-.9-1.8-.5-6.4-.8-1.2-.7-.8-1-2.9-7-4.3-8-1.3-3.3-.6-3.7 .1-8.5-.4-4.5-.6-2.5-.9-2.2-1.1-2.3-1.3-1.9-2.5-2.6-3-2.3-5.7-3.5-3.8-1.7-2.5-.5-2.5-.1-2 .3-4 1.1-1.7 .2-1.6-.3-1.4-1.1-1.5-2.1-1.1-2.9-.7-3.6-1.1-8.7-.8-4.3-1.3-4.7-1.7-4-1.1-2.1-1.3-1.8-1.2-1.4-1.2-1-1.3-.7-1.3-.3-1.4 0-1.3 .3-1.3 .7-1.2 1-2.2 2.8-1.8 3.7-1.3 4.8-.6 5 0 5.2 .8 5 1.3 4.5 1.8 3.9 2.2 3.2 2.8 2.7 5.2 3.9 1.9 1.8 2 2.5 1.6 3 1 3 .8 3.8 1.6 14.5 1.2 6.2 7 22.2 1.7 4.3 1.9 3.7 2.1 3.3 2.2 2.8 2.6 2.5 2.7 2.2 2.7 1.6 2.8 1.1 2.8 .5 2.4 .1z" fill="#bdbdbd" stroke="none"/>
<path d="M162.4 613.2l4.4-1 6.4-2.5 7.8-2.5 3.5-1.4 2.7-1.6 2.6-1.7 2.4-2.3 2-2.3 2.4-3.4 2-3.7 1.5-4.3 1.1-4.3 .5-4.2 0-4.2-.5-4-1.1-4-1.9-4.6-3-4.3-3.2-3.5-8.8-8.2-2-2.3-1.3-2.1-.8-1.8-.6-2.2-1.6-11.6-.8-3.7-1-3.5-1.3-3.8-1.8-3.7-1.9-3.3-2.1-2.9-4-4.4-5.8-4.9-6-4.5-7.2-4.3-1.8-1.4-1.4-1.5-2.6-3.3-3-4.8-10.4-18.3-2.8-3.8-2.8-3.1-3.4-2.7-1.8-1-2-.8-2-.4-1.8-.2-1.7 .1-1.7 .5-2.3 1-2.3 1.8-2 2.5-2.2 3.6-2.5 5.1-2.1 5.3-1.6 5.1-1.2 5.3-.8 5.3-.5 5.3-.1 5.4 .2 5.6 .5 5.4 .8 5.3 1.1 5 1.4 4.8 1.8 4.7 2.2 4.5 2 3.6 5 7.7 2.2 4.2 9.1 23.5 4.5 10.3 6.2 11.4 2.6 4.3 2.5 3.7 3.5 4.4 3.8 3.9 3.9 3.3 4.3 2.8 4.2 2 4.2 1.3 4 .5 4-.1zM160.9 611.5l4.3-.9 7.3-2.7 7.5-2 3.2-1.2 2.8-1.4 2.4-1.5 2.4-2 2-2.1 2.3-3.2 2-3.5 1.6-4 1.1-4.1 .5-4.1 .1-4.3-.5-4-1-3.7-1.9-4.4-2.8-4.2-3-3.1-9-8.3-2.2-2.6-1.6-2.4-.9-2-.6-2.3-1.4-11.5-.7-3.7-1-3.3-1.3-3.5-1.5-3.4-1.8-3.1-2.1-3-3.3-3.8-4.6-3.9-6.8-5.1-7.6-4.6-1.8-1.5-1.5-1.5-2.5-3.2-3.2-4.9-10.8-18.7-2.5-3.6-2.7-2.9-3.3-2.5-1.7-1-1.8-.6-3.2-.6-1.8 .2-1.5 .3-2.3 1.1-2.2 1.9-2 2.4-2.1 3.3-2.1 4.2-2 4.8-1.6 4.7-1.2 5.1-.8 4.9-.5 5-.2 5.3 .2 5.2 .4 5.2 .8 5 1 4.8 1.3 4.5 2 5 2.2 4.5 2.4 4 4.8 7.2 2.2 4 1.9 4.6 5.4 15.4 4.4 10.8 3 6.2 3.7 7.3 2.8 4.9 2.7 4.1 3.3 4.3 3.5 3.7 3.7 3.3 4 2.7 4 2 3.8 1.3 4 .7 3.8 0zM160.6 609.5l3.9-.8 7.5-2.7 7.2-1.7 3.6-1.1 2.4-1.2 2.3-1.4 2-1.6 2-2 2.3-3 2-3.4 1.5-3.6 1.1-4 .5-4 .1-3.8-.4-3.7-1-3.7-1.9-4.3-2.7-4-2.8-2.8-6-5.2-3-2.9-2.7-3.1-1.7-2.7-.9-2-.6-2.3-1.3-11.5-1.5-6.6-1.3-3.5-1.4-3.4-1.8-3-1.9-2.7-3.1-3.5-3.8-3.3-7-5.1-8-5-1.7-1.5-1.5-1.5-2.5-3.1-2.9-4.6-11.1-19-2.5-3.5-2.5-2.7-3-2.4-3.3-1.5-3-.5-1.4 .1-1.6 .3-2.2 1.1-2 1.7-2.1 2.4-2.1 3.3-2 3.8-1.8 4.2-1.5 4.5-1.1 4.5-.8 4.7-.4 4.8-.2 4.8 .1 5 .4 4.7 .7 4.8 1 4.6 1.3 4.2 1.9 4.9 2.3 4.5 2.3 3.7 5.3 7.6 2.5 4.4 1.9 4.8 4.6 14.5 3.7 9.5 3.5 7.8 3.7 7.4 2.6 4.8 2.7 4.2 3.3 4.3 3.2 3.5 3.8 3.2 3.7 2.6 3.7 1.9 3.8 1.2 3.8 .7 3.7-.1zM159 607.5l2-.2 2.2-.6 8-2.8 7.3-1.3 3.3-.9 2.2-.9 2.2-1.3 2-1.5 1.8-1.7 2.3-2.8 1.9-3.1 1.6-3.4 1-3.8 .6-3.7 .1-3.7-.4-3.6-.9-3.4-1.7-4-2.5-3.6-2.8-2.8-5.7-4.7-3-2.8-3.3-3.7-2.1-3.2-1-2.2-.6-2.6-1.2-11.2-1.3-6.3-1.1-3.2-1.4-3.3-1.7-3-1.8-2.5-2.8-3.2-3.4-3-6.8-4.9-8.2-5.2-1.8-1.4-1.8-1.7-2.2-2.9-2.9-4.4-11.1-19.1-2.5-3.4-2.3-2.6-2.7-2.2-3-1.5-2.7-.5-2.8 .4-2 .9-2 1.6-2 2.2-2 3-1.9 3.4-1.7 3.8-1.3 4-1.1 4.2-.8 4.3-.4 4.5-.2 4.5 0 4.5 .4 4.5 .7 4.5 .9 4.2 1.2 4.1 1.9 4.9 2.3 4.5 2.3 3.5 5.8 8 2.7 4.8 1.8 4.5 3.6 13 3 8.6 7.6 16.9 2.4 4.9 2.6 4.1 2.8 4 3.2 3.5 3.2 3.1 3.5 2.5 3.7 2.1 3.6 1.4 3.4 .8 3.6 .1zM158.6 605.2l3.9-.7 7.7-2.9 7.8-.9 3.2-.8 3.8-1.7 1.8-1.2 1.7-1.5 2.3-2.6 1.9-2.9 1.5-3.2 1-3.3 .6-3.5 .1-3.5-.4-3.5-.8-3.2-1.7-3.8-2.4-3.2-2.6-2.6-5.8-4.4-2.7-2.4-3.8-4.4-2.5-3.8-1.1-2.4-.6-2.6-1-11.2-1.2-6-1.1-3.2-1.2-2.9-1.5-2.7-1.7-2.5-2.8-3.1-3.2-2.8-6.6-4.6-8.4-5.2-2-1.6-1.7-1.6-2.3-3-2.7-4.3-10.6-18.4-2.5-3.6-2.2-2.5-2.6-2-2.7-1.4-2.5-.4-2.5 .4-2 1-2 1.6-2 2.3-1.7 2.5-1.6 3-1.4 3.3-1.3 3.7-.9 3.8-.7 4-.5 4-.1 4 .1 4.2 .3 4.2 .6 4 .9 4 1 3.6 1.8 4.4 2.3 4.3 2.5 3.7 6.2 8 1.6 2.6 1.4 2.7 1.7 4.7 3.1 12.6 2.4 7.6 7.9 18.6 2.2 4.5 2.5 4.2 2.7 3.8 3 3.5 3.3 3 3.2 2.3 3.5 1.9 3.3 1.3 3.4 .7 3.3 .1zM158.7 602.8l3.3-.8 5.5-2.4 2-.6 2.3-.3 5.4-.1 3.6-.7 3.4-1.6 3-2.2 2-2.2 1.9-2.7 1.4-3 .9-3 .6-3.2 .1-3.2-.3-3-.8-3-1.5-3.3-2.3-3-2.7-2.5-5.8-3.8-2.5-2-3.8-4.4-3.3-5-1.2-2.8-.7-2.8-.8-11-1-5.7-.9-3-1.2-2.7-1.4-2.6-1.5-2.2-2.9-3.2-3.5-2.8-6.8-4.5-8.1-4.7-3.1-2.5-2.1-2.5-2.3-3.6-3.4-6-6.4-12.1-2-3.2-2-2.7-2.8-2.8-2.8-1.6-1.4-.5-1.3-.1-2.5 .3-1.8 .9-1.7 1.4-1.7 1.8-1.8 2.5-1.5 2.7-1.3 3-1.1 3.2-.8 3.5-.6 3.5-.4 3.8 0 7.4 .9 7.3 .8 3.5 1 3.2 1.8 4.3 2.2 4 2.2 3.1 6.6 7.9 2 3 1.5 3 1.8 5.3 2.5 12.2 2 6.8 7.8 20 2.1 4.4 2.3 4 2.7 3.8 2.7 3.2 3 2.8 3.3 2.3 3.3 1.8 3.2 1.2 3.2 .5 3.3 0zM156.1 600.2l2.4-.2 2.3-.6 2-.9 4-2.1 1.7-.6 2-.3 5.5 .5 3-.2 3.2-1 3-1.8 2-1.9 1.8-2.3 1.4-2.6 .9-2.7 .6-2.7 .2-3-.3-2.8-.6-2.8-.9-2-1-1.7-1.2-1.5-1.3-1.4-3-2-5.9-2.8-2.1-1.8-2.3-2.9-5-7.9-1.3-3-.8-3-.3-2.7-.2-8.3-.8-5.2-.8-2.8-1.1-2.4-1.2-2.3-1.4-2-1.6-1.9-2-1.8-5.3-3.8-6.5-3.7-8.4-3.7-1.6-1-1.2-1.1-1.7-2-1.4-2.5-7.4-17-2-3.9-2-3.1-2.5-2.8-2.5-1.7-1.3-.5-1.2-.2-1.2 0-1.3 .3-1.5 .7-1.7 1.2-1.4 1.5-1.4 1.9-1.3 2.1-1.2 2.7-1.6 5.6-.9 6.2-.1 6.5 .8 6.5 1.6 5.7 1.7 4.2 2.1 3.6 2.4 3 5 5.3 2.1 2.4 2.1 3 1.6 3.3 1 2.7 .8 3 2 12.6 1.6 6.4 7.5 20.8 1.8 4.1 2 3.7 2.2 3.4 2.4 3 2.7 2.7 2.7 2.2 3 1.9 2.7 1.2 3 .8 2.8 .3zM156.3 597.2l2.2-.4 2.1-.8 2.1-1.2 3.8-2.8 1.7-.7 1.8 0 5 1.4 2.8 .2 3-.5 1.4-.6 1.6-1 1.7-1.5 1.4-1.8 1.3-2.3 .8-2.2 .6-2.5 .1-2.5-.3-2.5-.6-2.2-.9-1.8-1.1-1.6-1.4-1.4-1.6-1.1-1.8-.9-1.8-.5-6.4-.8-1.2-.7-.8-1-2.9-7-4.3-8-1.3-3.3-.6-3.7 .1-8.5-.4-4.5-.6-2.5-.9-2.2-1.1-2.3-1.3-1.9-2.5-2.6-3-2.3-5.7-3.5-3.8-1.7-2.5-.5-2.5-.1-2 .3-4 1.1-1.7 .2-1.6-.3-1.4-1.1-1.5-2.1-1.1-2.9-.7-3.6-1.1-8.7-.8-4.3-1.3-4.7-1.7-4-1.1-2.1-1.3-1.8-1.2-1.4-1.2-1-1.3-.7-1.3-.3-1.4 0-1.3 .3-1.3 .7-1.2 1-2.2 2.8-1.8 3.7-1.3 4.8-.6 5 0 5.2 .8 5 1.3 4.5 1.8 3.9 2.2 3.2 2.8 2.7 5.2 3.9 1.9 1.8 2 2.5 1.6 3 1 3 .8 3.8 1.6 14.5 1.2 6.2 7 22.2 1.7 4.3 1.9 3.7 2.1 3.3 2.2 2.8 2.6 2.5 2.7 2.2 2.7 1.6 2.8 1.1 2.8 .5 2.4 .1zM114.5 506.8l1.1-.8 .9-1.1 .6-1.4 .6-2 .3-2.5 .1-3-.3-5.8-1-4.4-.8-2-.8-1.6-1-1.2-1.2-1-1-.5-1.2 0-1.6 .5-1.2 1.1-1.2 1.7-.9 2-.7 2.4-.4 2.8 0 2.8 .2 2.7 .5 2.6 .7 2.3 1 2.1 1.3 1.9 1.5 1.4 1.5 .9 1.5 .3 1.5-.2zM156.1 593.8l1.7-.5 1.4-.7 1.6-1.1 1.3-1.3 1.2-1.4 1.3-2 1-2.3 .6-1.7 .3-1.6 0-1.7-1.2-8.3-.4-8.4-.4-3-.6-2.3-.9-2.1-4.6-8.2-1.3-3.2-.2-1.5 0-1.7 .9-6 .1-3.3-.6-3.3-1.1-2.7-1.4-2-1.8-1.7-2.2-1.6-3.3-2-2.3-1.1-2-.7-2-.3-1.7 .2-1.5 .4-1.8 .9-3.7 2.6-2.5 2.8-1.5 3-.9 4.5-.3 6.3 .2 7 .9 6 2.9 10.7 2 9.3 1.1 4 1.8 5 2.3 4.2 1.7 2.5 2 2.4 2.3 2.1 2.3 1.6 2.2 1.2 2.5 .8 2.3 .3 2.2-.1zM179.8 588.8l1.4-.6 1.2-.7 1.2-1 1-1.3 .8-1.4 .6-1.6 .4-1.7 .1-1.7-.2-1.8-.4-1.5-.8-1.5-.9-1.2-1-.9-1.2-.7-1.2-.4-1.6-.1-1.4 .2-1.6 .6-1.4 1-1.3 1.3-1.4 2-1 2-.6 2-.2 1.4 .3 1.6 .7 1.7 1.1 1.5 1.3 1.2 1.3 .9 1.6 .7 1.6 .1 1.6-.1zM154.2 589.8l1.3-.4 1.3-.5 1.2-.9 1-1 1.5-2.5 .9-3.3 .2-4-.4-5-1.3-7.4-1.4-4.8-1.3-2.8-1.7-2.4-2-2-2.3-1.5-2.2-1-2.8-.7-6-1-2 .1-1 .8-.8 2.3-.4 3.4-.2 5.3 .2 4.7 .4 4 .8 3.8 1.1 3.2 1.3 3 1.6 2.8 2 2.5 2 2 2.3 1.6 2.3 1.1 2.2 .6 2 0zM152.8 584l1.2-.5 1.2-1 1-1.5 .6-1.8 .2-2 0-2.2-.4-2.5-.7-2.7-.9-2.6-1-2.1-1.2-1.9-1.3-1.4-1.5-1.2-1.5-.7-1.7-.3-1.6 .2-1.3 .7-1.1 1.1-1 1.6-.6 1.8-.3 2.2-.1 2.3 .3 2.5 .6 2.2 .9 2.3 1 2 1.4 1.9 1.5 1.5 1.5 1.1 1.8 .8 1.4 .3 1.6-.1z" fill="none" stroke="#111111" stroke-width="0.92"/>
<rect x="107.9" y="491.8" width="6.3" height="6.3" fill="#000"/><rect x="142.9" y="521.5" width="6.3" height="6.3" fill="#000"/><rect x="141.3" y="563.1" width="6.3" height="6.3" fill="#000"/><rect x="144.3" y="563.1" width="6.3" height="6.3" fill="#000"/><rect x="152.0" y="576.9" width="6.3" height="6.3" fill="#000"/><rect x="177.8" y="574.8" width="6.3" height="6.3" fill="#000"/>
<path d="M93.3 410.75L331.4 674.45" stroke="#8e8e8e" stroke-width="0.8" fill="none"/>
<path d="M63.75 461.75L297.6 678" stroke="#6e6e6e" stroke-width="0.8" fill="none"/>
<rect x="63.75" y="410.75" width="268" height="267.25" fill="none" stroke="#262626" stroke-width="1.1"/>
<path d="M73.5 678v4.5M111.75 678v4.5M150 678v4.5M188.25 678v4.5M226.5 678v4.5M264.75 678v4.5M303 678v4.5M63.75 669.25h-4.5M63.75 608.5h-4.5M63.75 547.75h-4.5M63.75 487h-4.5M63.75 426.25h-4.5" stroke="#262626" stroke-width="1.1" fill="none"/>
<text x="73.5" y="694.5" class="tl" text-anchor="middle">-20</text>
<text x="111.75" y="694.5" class="tl" text-anchor="middle">0</text>
<text x="150" y="694.5" class="tl" text-anchor="middle">20</text>
<text x="188.25" y="694.5" class="tl" text-anchor="middle">40</text>
<text x="226.5" y="694.5" class="tl" text-anchor="middle">60</text>
<text x="264.75" y="694.5" class="tl" text-anchor="middle">80</text>
<text x="303" y="694.5" class="tl" text-anchor="middle">100</text>
<text transform="translate(54.25 669.25) rotate(-90)" class="tl" text-anchor="middle">-100</text>
<text transform="translate(54.25 608.5) rotate(-90)" class="tl" text-anchor="middle">-50</text>
<text transform="translate(54.25 547.75) rotate(-90)" class="tl" text-anchor="middle">0</text>
<text transform="translate(54.25 487) rotate(-90)" class="tl" text-anchor="middle">50</text>
<text transform="translate(54.25 426.25) rotate(-90)" class="tl" text-anchor="middle">100</text>
<text x="199.55" y="708.5" class="al" text-anchor="middle">average dE(φ )</text>
<text transform="translate(34.75 544.38) rotate(-90)" class="al" text-anchor="middle">δdF(φ )</text>
<text x="197.75" y="394.45" class="ti" text-anchor="middle">1CLL N-lobe</text>
<path d="M426.25 410.75V678M464.5 410.75V678M502.75 410.75V678M541 410.75V678M579.25 410.75V678M617.5 410.75V678M655.75 410.75V678M416.5 669.25H684.5M416.5 608.5H684.5M416.5 547.75H684.5M416.5 487H684.5M416.5 426.25H684.5" stroke="#eeeeee" stroke-width="0.8" fill="none"/>
<path d="M465.6 630.2l2.6-.8 2.6-1.6 2.3-2.3 4.3-5.5 2.1-2.3 3.3-2.4 4.2-2.2 2.8-.9 2.7-.5 2.5 0 8.5 .5 3-.1 2.7-.4 3-.7 2.8-1 2.8-1.4 2.4-1.6 2.6-2 2.4-2.5 2.2-2.7 1.9-3 1.9-3.8 1.6-4.2 1.2-4 .7-3.6 .2-3.4-.2-3.6-.6-3.7-.9-4-1.4-4.3-4.6-13-3.6-13.4-1.4-4.4-1.9-5.2-2.3-4.6-3.8-6.2-6.2-9.2-4.1-5.4-3.7-4.3-4.4-4-4.8-3.5-4.5-2.5-2-.7-1.7-.4-2 .1-2 .7-4.8 3.3-5.2 3.3-4.4 3.4-4.1 4.6-8.3 11.6-3.2 5.4-1.4 3.2-1.2 3.5-.8 3.7-.7 4.3-.5 7 .1 8 1.9 27.3 .4 10.7 .2 16 .4 4.5 .7 4.2 1.2 4.6 1.7 4.1 1.9 3.6 2.2 3 2.4 2.3 2.7 1.6 2.8 .9 2.7 0z" fill="#e4e4e4" stroke="none"/>
<path d="M464.6 621.2l2.2-.5 2-1.1 1.7-1.6 4.5-4.8 2.8-2.6 4.7-3.4 3.3-1.6 2-.5 2.4-.2 10.3 1.2 5.3 0 2.7-.4 2.7-.7 2.6-1 2.2-1.2 2.5-1.8 2.2-2 1.9-2.2 1.7-2.6 1.5-2.7 1.2-3 1-3.3 .7-3.4 .5-4 .1-3.8-.4-3.8-.7-4-8.1-28-1.9-5.2-1.9-4.5-2.8-5.1-3.7-5.9-6-8.5-4.3-5.5-3.5-3.7-3.5-2.9-3.3-2-3-1.1-1.7-.1-2 .4-9 4-2.3 1.2-2 1.5-2 1.7-2 2-2.2 2.7-2.4 3.6-8.1 13.6-2.3 5.4-1.5 6-.7 7.4 0 8.8 1.6 19.2 1.8 27.3 .8 7 .9 3.5 1.1 3.2 1.3 2.8 1.5 2.2 1.8 1.9 1.7 1.2 2 .8 2 .2z" fill="#d2d2d2" stroke="none"/>
<path d="M466 606.8l2-.7 2.2-1.4 3-2.6 4.8-4.8 1.5-1 1.5-.5 2-.2 2.2 .2 10.8 2.4 5 .6 2.5 0 2.3-.2 2.2-.5 2.2-.8 2-1 1.8-1.2 1.8-1.5 1.4-1.6 1.4-2 1.2-2 .9-2.2 .7-2.6 .5-3 .2-3-.1-3.2-.4-3.8-1.8-9.7-2.3-14-1.5-5.7-1.8-5.1-2.2-4.8-2.8-4.8-4-6-4.4-5.9-3.3-3.8-2.7-2.6-2.8-1.8-2.5-1-2.3-.3-3 .1-3.7 .5-2.7 .6-2.3 .9-2.3 1.2-2 1.5-2 2-3.2 4.1-3 5.4-7 16.7-1.7 5.3-.5 3-.4 3.2 0 7.8 2.1 25.8 1.3 9.2 .7 3.8 1 3.4 1 2.6 1 1.9 1.3 1.6 1.2 1 1.5 .5 1.5 0z" fill="#c6c6c6" stroke="none"/>
<path d="M467.3 595.5l1.5-1 1-1.3 .9-2.2 1.3-5 .5-.7 .7-.3 1.8 .5 5.6 3 3.9 1.7 4.1 1.6 4.2 1.2 4 .8 3.4 .4 3.3-.1 2.7-.5 2-.7 1.8-.9 1.8-1.2 1.5-1.6 1.4-1.7 1.1-1.7 .8-2 .7-2.3 .4-2.3 .2-2.4-.4-5.3-2.1-12-1-10.5-.6-3.8-1.1-4.4-1.7-4.8-2-4-2.8-4.5-3.4-4.6-3.8-4.3-2.8-2.5-2.7-2-3-1.5-3.3-1-4.2-.6-2 .1-1.8 .3-1.7 .5-1.7 .8-1.7 1.1-1.6 1.2-2.9 3.2-2.4 4-2.1 5-1.7 6-3.6 18-.7 4.6 0 4.2 .7 10.8 .2 11.1 .3 3.1 .5 3 .8 2.5 .9 2.2 1 1.5 1.3 1.1 1.2 .4 1.2-.2z" fill="#bdbdbd" stroke="none"/>
<path d="M465.5 637.2l1.7-.3 1.8-.6 1.8-.9 1.7-1.3 3-3.1 4.1-5.8 1.9-2.2 2.3-1.8 3-1.6 3.7-1.4 3.5-.8 2.8-.1 9 0 3-.3 2.7-.5 3-.9 3-1.2 2.7-1.4 2.8-1.9 2.9-2.3 2.6-2.7 2.3-2.9 2.2-3.4 2.7-5 1.9-4.3 1-3.5 .5-3.5 .1-3.7-.3-4.3-.7-4.5-1.1-4.5-1.5-4.7-3.7-9.6-1.4-4.2-1.2-4.5-2.3-10.3-1.6-5.4-2.2-5.8-3-5.8-4.7-7.6-6.5-9.5-4-5.1-3.8-3.8-4.5-3.7-5.7-3.4-7.2-3.6-2.6-.8-2-.4-2 .2-1.7 .8-5 4.9-5.5 4.1-2.8 2.4-4.7 5.1-8 10.3-3.1 4.9-2.3 5.5-1.6 6.5-1.1 7.8-.3 6.4 0 7 1.5 21.3 .6 14.3-.3 21.2 .5 6.2 1 5.8 1.5 5.2 1.9 4.9 2.2 4.2 2.8 3.8 2.9 2.9 3.1 1.9 3.2 1.2 3.2 .2zM464.8 634l1.7-.2 1.7-.6 1.8-.9 1.5-1 2.7-2.8 4.3-5.7 2-2.3 2.7-2.1 3.8-2 3.2-1.1 3-.6 2.8-.1 8.5 .2 3-.2 2.7-.4 3-.8 3-1.1 2.8-1.4 2.5-1.6 2.7-2.2 2.6-2.6 2.2-2.8 2.1-3.2 2.2-4.3 2-4.7 1.1-3.5 .6-3.5 .2-3.5-.3-4-.6-4-1-4.2-1.5-4.8-4.9-13.2-3.7-14.5-1.4-5.1-2.1-5.2-2.6-5.2-4.1-6.7-6.6-9.6-3.9-5.1-3.7-4.1-4.8-4-5.5-3.6-5.5-2.8-2.2-.8-1.8-.3-2 .1-2 .8-4.8 4-6.2 4.4-4.3 3.9-4.5 5.3-7.1 9.7-1.7 2.8-1.4 2.6-1.3 3.4-1.2 3.9-.8 4.1-.7 4.4-.4 7 0 7.6 1.5 19.7 .5 9.3 .2 10-.1 12.2 .1 4.8 .4 5 .8 4.4 1.2 4.9 1.8 4.6 2 3.9 2.4 3.4 2.6 2.7 2.8 1.9 3 1.1 3 .3zM465.6 630.2l2.6-.8 2.6-1.6 2.3-2.3 4.3-5.5 2.1-2.3 3.3-2.4 4.2-2.2 2.8-.9 2.7-.5 2.5 0 8.5 .5 3-.1 2.7-.4 3-.7 2.8-1 2.8-1.4 2.4-1.6 2.6-2 2.4-2.5 2.2-2.7 1.9-3 1.9-3.8 1.6-4.2 1.2-4 .7-3.6 .2-3.4-.2-3.6-.6-3.7-.9-4-1.4-4.3-4.6-13-3.6-13.4-1.4-4.4-1.9-5.2-2.3-4.6-3.8-6.2-6.2-9.2-4.1-5.4-3.7-4.3-4.4-4-4.8-3.5-4.5-2.5-2-.7-1.7-.4-2 .1-2 .7-4.8 3.3-5.2 3.3-4.4 3.4-4.1 4.6-8.3 11.6-3.2 5.4-1.4 3.2-1.2 3.5-.8 3.7-.7 4.3-.5 7 .1 8 1.9 27.3 .4 10.7 .2 16 .4 4.5 .7 4.2 1.2 4.6 1.7 4.1 1.9 3.6 2.2 3 2.4 2.3 2.7 1.6 2.8 .9 2.7 0zM465.9 626l2.3-.9 2.3-1.7 2-2 4-4.9 2.7-2.6 3.8-2.6 3.5-1.8 2.5-.7 2.5-.3 10.7 .8 2.8 0 2.8-.2 3-.7 2.7-.9 2.5-1.2 2.5-1.5 2.5-1.9 2.4-2.4 2.1-2.7 1.7-2.8 1.6-3.2 1.3-3.6 1.2-4 .7-3.7 .3-3.5-.1-3.5-.5-3.5-.9-4-5.2-15.5-4.7-16.5-1.8-4.8-2.1-4.5-3.3-5.7-5.5-8.1-4.7-6.5-4-4.8-4-3.9-4-3.1-3.7-2.2-1.8-.7-1.5-.3-2 0-2 .6-9.5 5.2-4.2 3.1-4 4.1-4.5 6.1-5.7 8.7-2.1 3.7-1.4 3.1-1.1 3.2-.8 3.3-.6 3.7-.6 7.3 0 8.3 1.9 23.7 .6 12.7 .5 14.6 .4 4 .6 3.7 1.1 4 1.4 3.8 1.7 3.2 2 2.7 2.3 2 2.3 1.3 2.4 .7 2.6-.2zM464.6 621.2l2.2-.5 2-1.1 1.7-1.6 4.5-4.8 2.8-2.6 4.7-3.4 3.3-1.6 2-.5 2.4-.2 10.3 1.2 5.3 0 2.7-.4 2.7-.7 2.6-1 2.2-1.2 2.5-1.8 2.2-2 1.9-2.2 1.7-2.6 1.5-2.7 1.2-3 1-3.3 .7-3.4 .5-4 .1-3.8-.4-3.8-.7-4-8.1-28-1.9-5.2-1.9-4.5-2.8-5.1-3.7-5.9-6-8.5-4.3-5.5-3.5-3.7-3.5-2.9-3.3-2-3-1.1-1.7-.1-2 .4-9 4-2.3 1.2-2 1.5-2 1.7-2 2-2.2 2.7-2.4 3.6-8.1 13.6-2.3 5.4-1.5 6-.7 7.4 0 8.8 1.6 19.2 1.8 27.3 .8 7 .9 3.5 1.1 3.2 1.3 2.8 1.5 2.2 1.8 1.9 1.7 1.2 2 .8 2 .2zM465 615l1.8-.5 1.7-1.1 11.3-9.8 2.2-1.6 2-.8 2-.4 2.5 0 10.3 1.7 5 .3 2.4-.2 2.6-.5 2.2-.7 2.2-1 2.3-1.4 2-1.6 1.7-1.8 1.7-2.1 1.4-2.3 1.2-2.4 1-2.8 .6-2.8 .6-4 .2-4-.3-4.2-.6-4.2-5.5-23-1.9-6-2-5.3-2.6-5.2-3.2-5.3-5.6-8-4.4-5.9-3.3-3.7-3-2.7-2.7-1.8-2.8-1-2-.1-2 .2-5.2 1.5-3 1.1-2.3 1-2.3 1.4-2 1.6-2 2-2.4 3-2.4 3.6-7.4 14-2.4 5.3-1.4 5.3-.6 3.4-.3 4 .1 8.8 2.6 31.2 1 9.3 .8 5.5 .7 3.5 .9 2.7 1.1 2.6 1.2 2 1.5 1.7 1.6 1 1.4 .5 1.8 0zM466 606.8l2-.7 2.2-1.4 3-2.6 4.8-4.8 1.5-1 1.5-.5 2-.2 2.2 .2 10.8 2.4 5 .6 2.5 0 2.3-.2 2.2-.5 2.2-.8 2-1 1.8-1.2 1.8-1.5 1.4-1.6 1.4-2 1.2-2 .9-2.2 .7-2.6 .5-3 .2-3-.1-3.2-.4-3.8-1.8-9.7-2.3-14-1.5-5.7-1.8-5.1-2.2-4.8-2.8-4.8-4-6-4.4-5.9-3.3-3.8-2.7-2.6-2.8-1.8-2.5-1-2.3-.3-3 .1-3.7 .5-2.7 .6-2.3 .9-2.3 1.2-2 1.5-2 2-3.2 4.1-3 5.4-7 16.7-1.7 5.3-.5 3-.4 3.2 0 7.8 2.1 25.8 1.3 9.2 .7 3.8 1 3.4 1 2.6 1 1.9 1.3 1.6 1.2 1 1.5 .5 1.5 0zM467.3 595.5l1.5-1 1-1.3 .9-2.2 1.3-5 .5-.7 .7-.3 1.8 .5 5.6 3 3.9 1.7 4.1 1.6 4.2 1.2 4 .8 3.4 .4 3.3-.1 2.7-.5 2-.7 1.8-.9 1.8-1.2 1.5-1.6 1.4-1.7 1.1-1.7 .8-2 .7-2.3 .4-2.3 .2-2.4-.4-5.3-2.1-12-1-10.5-.6-3.8-1.1-4.4-1.7-4.8-2-4-2.8-4.5-3.4-4.6-3.8-4.3-2.8-2.5-2.7-2-3-1.5-3.3-1-4.2-.6-2 .1-1.8 .3-1.7 .5-1.7 .8-1.7 1.1-1.6 1.2-2.9 3.2-2.4 4-2.1 5-1.7 6-3.6 18-.7 4.6 0 4.2 .7 10.8 .2 11.1 .3 3.1 .5 3 .8 2.5 .9 2.2 1 1.5 1.3 1.1 1.2 .4 1.2-.2zM499.4 588.5l2.6-.2 2.2-.5 2-.9 1.7-1.1 1.5-1.6 1.3-1.7 .9-2 .6-2.3 .5-4-.3-5-2.4-19.2-.6-3.8-.8-3.2-1.8-4.9-2.6-4.3-3.4-4.1-5-4.5-5-3.9-4-2.1-2-.6-1.8-.3-1.8 0-1.7 .4-2 .8-1.7 1.1-1.8 1.7-1.5 1.9-1.3 2.3-1.1 2.5-.9 2.8-.6 3-.6 6 .3 6.2 1.3 7.2 2.2 9 2.1 6.6 2.1 4.8 2.3 3.9 2.9 3.3 3.7 2.7 4.3 2.1 5 1.4 2.6 .4 2.4 .1zM497.4 581l1.6-.3 1.5-.6 1.3-.7 1.2-1 1-1.2 .9-1.4 1.1-3.4 .6-5.2-.2-6.7-.7-6.7-1.2-5.6-1.5-3.9-1.8-3.3-2.4-3.1-3.3-3.1-4.3-3.3-3.7-2-3-.8-1.5-.1-1.2 .3-1.3 .4-1.3 .9-1.2 1.2-.9 1.4-1.4 3.2-.9 4.2-.1 5 .5 6.3 1.1 7.3 1.4 6 1.4 4 1.7 3.2 2 2.9 2.2 2.3 2.8 1.9 3 1.3 3.2 .6 3.2 0zM494.1 570l1.4-.7 1.3-1.1 1-1.4 .8-2 .6-2.3 .2-2.5-.1-2.8-.4-2.4-.6-2.3-.8-2-1.2-2-1.3-1.5-1.5-1.2-1.7-.9-1.8-.4-1.5 .1-1.5 .6-1.2 1-.9 1.6-.8 2-.5 2.2-.2 2.8 .2 2.7 .4 2.8 .7 2.5 .8 1.9 1 1.8 1.3 1.5 1.4 1.2 1.6 .7 1.7 .3 1.5-.2z" fill="none" stroke="#111111" stroke-width="0.92"/>
<rect x="475.9" y="537.6" width="6.3" height="6.3" fill="#000"/><rect x="487.2" y="548.2" width="6.3" height="6.3" fill="#000"/><rect x="488.7" y="565.6" width="6.3" height="6.3" fill="#000"/><rect x="496.4" y="571.5" width="6.3" height="6.3" fill="#000"/><rect x="462.2" y="584.4" width="6.3" height="6.3" fill="#000"/>
<path d="M446.05 410.75L684.15 674.45" stroke="#8e8e8e" stroke-width="0.8" fill="none"/>
<path d="M416.5 461.75L650.35 678" stroke="#6e6e6e" stroke-width="0.8" fill="none"/>
<rect x="416.5" y="410.75" width="268" height="267.25" fill="none" stroke="#262626" stroke-width="1.1"/>
<path d="M426.25 678v4.5M464.5 678v4.5M502.75 678v4.5M541 678v4.5M579.25 678v4.5M617.5 678v4.5M655.75 678v4.5M416.5 669.25h-4.5M416.5 608.5h-4.5M416.5 547.75h-4.5M416.5 487h-4.5M416.5 426.25h-4.5" stroke="#262626" stroke-width="1.1" fill="none"/>
<text x="426.25" y="694.5" class="tl" text-anchor="middle">-20</text>
<text x="464.5" y="694.5" class="tl" text-anchor="middle">0</text>
<text x="502.75" y="694.5" class="tl" text-anchor="middle">20</text>
<text x="541" y="694.5" class="tl" text-anchor="middle">40</text>
<text x="579.25" y="694.5" class="tl" text-anchor="middle">60</text>
<text x="617.5" y="694.5" class="tl" text-anchor="middle">80</text>
<text x="655.75" y="694.5" class="tl" text-anchor="middle">100</text>
<text transform="translate(407 669.25) rotate(-90)" class="tl" text-anchor="middle">-100</text>
<text transform="translate(407 608.5) rotate(-90)" class="tl" text-anchor="middle">-50</text>
<text transform="translate(407 547.75) rotate(-90)" class="tl" text-anchor="middle">0</text>
<text transform="translate(407 487) rotate(-90)" class="tl" text-anchor="middle">50</text>
<text transform="translate(407 426.25) rotate(-90)" class="tl" text-anchor="middle">100</text>
<text x="552.3" y="708.5" class="al" text-anchor="middle">average dE(φ )</text>
<text transform="translate(387.5 544.38) rotate(-90)" class="al" text-anchor="middle">δdF(φ )</text>
<text x="550.5" y="394.45" class="ti" text-anchor="middle">1CLL C-lobe</text>
<path d="M73.5 787.75V1055M111.75 787.75V1055M150 787.75V1055M188.25 787.75V1055M226.5 787.75V1055M264.75 787.75V1055M303 787.75V1055M63.75 1046.25H331.75M63.75 985.5H331.75M63.75 924.75H331.75M63.75 864H331.75M63.75 803.25H331.75" stroke="#eeeeee" stroke-width="0.8" fill="none"/>
<path d="M155.1 963.5l4.4-.8 3.7-1.1 3.1-1.4 6.7-3.4 1.8-1.3 1.1-1.3 1-1.7 .6-2 .3-2 .1-2.3-.3-2.2-.6-2.5-2.7-7.7-3.5-11.8-1.8-4.6-2-4.3-1.8-3-1.7-2.4-1.5-1.5-2.8-2.3-1.2-1.4-1.2-2.2-3.9-7.8-1.7-2.4-1.7-1.6-1.5-.8-1.5-.3-1.5 .1-3 .7-1-.1-.8-.2-1-.7-1-1.1-5.2-6.4-3-2.7-1.8-1-1.7-.7-1.5-.3-3-.3-1.2-.4-1-.7-2.8-2.5-2-1.1-1.8-.6-2-.1-2 .3-2 .8-2.2 1.5-2.2 2.1-2.1 2.8-1.2 2.4-.6 2.3-.3 2.7 .2 3 .6 3.6 .8 3 1 2.7 1.3 2.6 1.5 2.4 2.8 3.2 1.7 1.4 3 1.8 .8 1.1 .5 1.8 .8 6.7 1.1 4.5 6.1 14.5 3 6.4 3.4 6.5 2.6 3.9 2.9 3.2 3.5 2.7 4.3 2.4 4.7 1.5 4.8 .6 5-.2z" fill="#e4e4e4" stroke="none"/>
<path d="M155.1 961.2l3.4-.5 3-.8 2.7-1.1 2.6-1.6 2.7-2 2.3-2.2 1.4-2 .8-2.2 .3-1.6 0-1.7-.7-3.5-3.5-7.8-2.9-8-2.1-4.4-2.3-3.8-6-9-1.8-3.2-3.5-8-1.3-1.9-1.2-1.4-1.2-.8-1.6-.5-1.2 .1-3.5 .7-1-.1-.7-.3-1-.7-1-1.1-5-6.5-1.6-1.5-1.7-1.3-1.5-.9-1.8-.7-6-1.2-1.7-.7-1.1-1-1.4-2.8-.8-1.1-1-1-1-.6-1.2-.3-1.2-.1-1.3 .2-1.3 .5-1.7 1.2-1.3 1.4-1 1.8-.6 2-.2 2.6 .6 4.4-.2 4.3 .4 2.7 .8 2.3 1 1.8 1.2 1.5 1.5 1.2 1.3 .6 1.8 .6 6.9 1 .8 .4 .5 .6 .1 .8-.2 .8-2.3 4.4-.9 2.8-.4 3 .3 3.2 .7 3.3 1.5 4.2 4.2 10.8 3 6.3 3.2 5.7 2.6 3.7 2.8 3 3.2 2.5 4 2 4 1.2 4.4 .6 4.8-.2z" fill="#d2d2d2" stroke="none"/>
<path d="M118.7 898.2l1.5-.3 1.8-.7 4.8-2.7 .6-.7-.1-1.8-.7-2-1.1-2-1.4-1.8-1.5-1.2-1.8-1-1.8-.5-2-.2-2 .2-1.2 .4-1 .8-1.7 2.3-.9 3-.2 1.5 .2 1.5 1 2.3 .9 .9 1.1 .9 2.6 1 2.7 .2zM155.3 958.8l2.7-.5 2.5-.8 2.3-.9 2-1.2 1.7-1.4 1.6-1.8 1.1-1.7 .8-2 .3-2.7-.5-2.8-3-7.2-2.9-7.8-1.5-3.5-2-3.5-5-8.2-4.6-8.2-2.3-2.9-1.3-1-1.4-.5-5 .2-2.3-.5-2.3-1.2-4.7-3.6-1.5-.5-1 .1-.5 .8-.4 3.3-.7 2.2-1.3 2.2-3.3 4.4-1.4 2.2-1.2 2.7-.5 2.7 .1 3.3 .7 3.5 4.8 13.8 2.7 5.6 4 6.8 2.8 3.6 3 2.8 3.7 2.3 2.1 .9 2.2 .6 4.4 .6 5-.2z" fill="#c6c6c6" stroke="none"/>
<path d="M118.4 896l2-.8 1.6-1.4 .7-1.8 .1-2-.8-1.8-1.5-1.6-2-.8-2 0-1.8 .7-1.4 1.5-.8 2 0 2 .7 1.8 1.3 1.3 1.7 .9 2 0zM154 957.5l2.5-.3 2.5-.6 2.1-.8 1.9-1.1 1.6-1.2 1.5-1.5 1.2-1.8 .7-1.7 .3-2.5-.4-2.8-5.3-14.7-1.7-3.7-2.4-4.2-7.7-12.4-1.6-2.1-1.2-1.2-1.5-1-1.7-.6-5-.3-5.8-1-1.2 0-1.3 .4-1.5 .9-1.8 1.4-3.7 3.9-1.9 3.2-.9 3.2-.1 3.2 .6 3.6 2.6 8.2 2 5.6 2.4 5.3 3.6 5.8 2.8 3.8 2.8 2.7 3.1 2.1 3.7 1.5 4 .7 4.6 0z" fill="#bdbdbd" stroke="none"/>
<path d="M153.3 964.8l4.2-.6 4-.9 3-1 5.5-2.4 5.2-1.6 1.3-.8 .8-1 .8-1.5 .7-2 .5-2.8 .1-2.7-.2-2.7-.5-2.8-6.5-20.9-2-5.5-2.2-5.1-2-3.8-2.2-3.4-1.8-2.2-3.8-3.9-5.1-8-1.6-1.9-1.5-1.3-1.5-.8-1.5-.3-1.8 .1-3.2 .7-1-.1-1-.4-1.5-1.3-4-5-2.5-2.6-2.5-2-2.5-1.4-1.8-.5-4.2-.8-4.5-2.4-2.7-.9-1.6-.1-1.7 .1-1.7 .4-1.6 .6-1.7 .9-1.7 1.3-3.7 3.5-1.7 2.5-1 2.7-.3 3.8 .5 4.8 1.3 5 1.9 4.7 1.7 3.2 1.7 2.6 1.8 2.1 3.4 3.4 1.1 1.5 .7 2 1.9 7.5 1.9 5 7.5 16.7 4 7.6 2.7 4.2 2.3 2.5 2.5 2.1 3 2 3.1 1.6 3.1 1.2 3.3 .7 3.3 .4 3.4 0zM155.1 963.5l4.4-.8 3.7-1.1 3.1-1.4 6.7-3.4 1.8-1.3 1.1-1.3 1-1.7 .6-2 .3-2 .1-2.3-.3-2.2-.6-2.5-2.7-7.7-3.5-11.8-1.8-4.6-2-4.3-1.8-3-1.7-2.4-1.5-1.5-2.8-2.3-1.2-1.4-1.2-2.2-3.9-7.8-1.7-2.4-1.7-1.6-1.5-.8-1.5-.3-1.5 .1-3 .7-1-.1-.8-.2-1-.7-1-1.1-5.2-6.4-3-2.7-1.8-1-1.7-.7-1.5-.3-3-.3-1.2-.4-1-.7-2.8-2.5-2-1.1-1.8-.6-2-.1-2 .3-2 .8-2.2 1.5-2.2 2.1-2.1 2.8-1.2 2.4-.6 2.3-.3 2.7 .2 3 .6 3.6 .8 3 1 2.7 1.3 2.6 1.5 2.4 2.8 3.2 1.7 1.4 3 1.8 .8 1.1 .5 1.8 .8 6.7 1.1 4.5 6.1 14.5 3 6.4 3.4 6.5 2.6 3.9 2.9 3.2 3.5 2.7 4.3 2.4 4.7 1.5 4.8 .6 5-.2zM154 962.5l3.8-.5 3.2-.8 3-1.1 3.1-1.6 3.5-2.3 2.5-2 1.6-2 1.1-2.4 .3-1.8 .1-2-.2-2-.5-2-3.3-8.5-3.2-9.7-2.3-5.3-1.5-2.6-1.4-2.1-4.6-4.8-1.7-2.4-1.5-2.8-3.7-8.6-1.5-2.3-1.6-1.6-1.2-.7-1.5-.4-1.5 .1-3 .6-1 0-.8-.2-1-.7-1-1-5.4-6.9-1.8-1.6-1.8-1.3-1.4-.8-1.6-.4-4.7-.5-1.5-.4-1-.9-2.8-3.7-1.2-.9-1.2-.6-1.6-.4-1.4 0-1.6 .3-1.4 .6-2 1.3-1.9 2-1.4 2.2-1.1 2.5-.6 2.7-.1 3 .1 3.3 .6 3.3 .9 3 1.3 3 1.6 2.4 1.8 1.9 1.2 .9 1.6 .6 1.4 .3 3.8 .2 1 .4 .5 .5 0 1-1.2 3.8-.5 2.7 0 3.3 .5 3.2 .8 3 1.1 3.2 4.6 11.3 2.4 5.2 3.6 6.5 2.6 4 2.6 3.1 3.2 2.7 4 2.3 4.3 1.5 4.5 .8 4.8-.1zM155.1 961.2l3.4-.5 3-.8 2.7-1.1 2.6-1.6 2.7-2 2.3-2.2 1.4-2 .8-2.2 .3-1.6 0-1.7-.7-3.5-3.5-7.8-2.9-8-2.1-4.4-2.3-3.8-6-9-1.8-3.2-3.5-8-1.3-1.9-1.2-1.4-1.2-.8-1.6-.5-1.2 .1-3.5 .7-1-.1-.7-.3-1-.7-1-1.1-5-6.5-1.6-1.5-1.7-1.3-1.5-.9-1.8-.7-6-1.2-1.7-.7-1.1-1-1.4-2.8-.8-1.1-1-1-1-.6-1.2-.3-1.2-.1-1.3 .2-1.3 .5-1.7 1.2-1.3 1.4-1 1.8-.6 2-.2 2.6 .6 4.4-.2 4.3 .4 2.7 .8 2.3 1 1.8 1.2 1.5 1.5 1.2 1.3 .6 1.8 .6 6.9 1 .8 .4 .5 .6 .1 .8-.2 .8-2.3 4.4-.9 2.8-.4 3 .3 3.2 .7 3.3 1.5 4.2 4.2 10.8 3 6.3 3.2 5.7 2.6 3.7 2.8 3 3.2 2.5 4 2 4 1.2 4.4 .6 4.8-.2zM152.5 960.2l3.5-.3 3.2-.6 2.8-.9 2.5-1.2 2.7-1.9 2.2-2.1 1.5-2 1-2.2 .3-1.5 .1-1.7-.6-3.3-3.4-7.5-2.7-7.2-2-4.3-2.2-4-5.8-9.3-4.8-9.5-1.2-1.7-1.1-1.2-1.3-.8-1.2-.4-1.2 .1-3.6 .6-1.2-.2-1-.4-2-1.7-4.8-6.1-3.2-2.9-2.7-1.8-2.8-1.4-2.3-.8-4-1-1.2-.5-.9-1-1.2-3.5-.7-.8-.7-.6-1.7-.4-1.8 .4-1.2 .9-.9 1-.6 1.3-.2 1.4 .1 1 .3 1.1 1.8 2.5 .4 1 0 1.2-1 3.8-.3 1.7 .2 2 .8 2 .9 1.3 1 1 1.2 .8 1.5 .7 1.8 .5 2 .3 5.4 0 1 .4 .4 .7-.1 1-.4 1.3-3.1 5-1.2 2.7-.7 2.8-.1 3 .5 3.2 1.1 4 4 10.8 2.5 5.5 3.1 5.7 2.8 4.3 2.3 2.7 2.7 2.5 3.3 2.1 3.7 1.5 4 .8 4.2 .2zM118.7 898.2l1.5-.3 1.8-.7 4.8-2.7 .6-.7-.1-1.8-.7-2-1.1-2-1.4-1.8-1.5-1.2-1.8-1-1.8-.5-2-.2-2 .2-1.2 .4-1 .8-1.7 2.3-.9 3-.2 1.5 .2 1.5 1 2.3 .9 .9 1.1 .9 2.6 1 2.7 .2zM155.3 958.8l2.7-.5 2.5-.8 2.3-.9 2-1.2 1.7-1.4 1.6-1.8 1.1-1.7 .8-2 .3-2.7-.5-2.8-3-7.2-2.9-7.8-1.5-3.5-2-3.5-5-8.2-4.6-8.2-2.3-2.9-1.3-1-1.4-.5-5 .2-2.3-.5-2.3-1.2-4.7-3.6-1.5-.5-1 .1-.5 .8-.4 3.3-.7 2.2-1.3 2.2-3.3 4.4-1.4 2.2-1.2 2.7-.5 2.7 .1 3.3 .7 3.5 4.8 13.8 2.7 5.6 4 6.8 2.8 3.6 3 2.8 3.7 2.3 2.1 .9 2.2 .6 4.4 .6 5-.2zM118.4 896l2-.8 1.6-1.4 .7-1.8 .1-2-.8-1.8-1.5-1.6-2-.8-2 0-1.8 .7-1.4 1.5-.8 2 0 2 .7 1.8 1.3 1.3 1.7 .9 2 0zM154 957.5l2.5-.3 2.5-.6 2.1-.8 1.9-1.1 1.6-1.2 1.5-1.5 1.2-1.8 .7-1.7 .3-2.5-.4-2.8-5.3-14.7-1.7-3.7-2.4-4.2-7.7-12.4-1.6-2.1-1.2-1.2-1.5-1-1.7-.6-5-.3-5.8-1-1.2 0-1.3 .4-1.5 .9-1.8 1.4-3.7 3.9-1.9 3.2-.9 3.2-.1 3.2 .6 3.6 2.6 8.2 2 5.6 2.4 5.3 3.6 5.8 2.8 3.8 2.8 2.7 3.1 2.1 3.7 1.5 4 .7 4.6 0zM153.3 956l2.5-.3 2.2-.5 2-.7 1.8-1 1.4-1.1 1.3-1.4 .9-1.5 .6-1.5 .3-2.2-.4-2.8-3.8-11.5-1.3-3.5-2.8-5.3-6.5-10-2.3-3.1-2-1.9-1.4-.9-1.6-.5-7-.9-3.2-.1-2.5 .6-1.5 .8-1.5 1.1-2.5 2.6-1.6 2.8-.4 1.6-.3 1.7 .1 3 .7 3.5 2.6 8.8 1.7 4.7 2.2 4.3 3.2 5.2 2.7 3.5 2.6 2.5 3 2 3.2 1.2 3.5 .7 4 .1zM155 954l3.5-1 1.5-.7 1.2-.9 1-1 .9-1.2 .5-1.2 .4-1.5 0-2.3-.6-2.7-2.9-9.8-2.2-5.2-2.5-4.2-5.6-7.8-2-2.4-2-1.7-1.4-.8-1.8-.6-5.2-.8-3.6 .1-2.7 .9-2.3 1.7-1.7 2.2-1 2.4-.3 3 .5 4 2.2 8.5 1.3 4 1.6 3.5 2.4 4.1 3.2 4.4 2.4 2.6 2.4 1.9 2.8 1.5 3 .9 3.5 .3 3.5-.2zM154.5 951.8l2.6-.8 2.1-1.3 1.5-1.9 .7-2.3-.3-3.3-1.9-8-1.1-3.7-1.6-3.3-2.5-3.8-4.5-5.6-2.3-2.5-2-1.6-3-1.3-3.7-.7-3 0-2.5 .9-1.5 1.2-1.2 1.7-.7 2-.1 2.3 .4 3 1.9 9 1 3.2 1.4 3 2 3.2 3.3 4.2 2.2 2.4 2.1 1.7 2.3 1.3 2.7 .8 3 .3 2.7-.1zM153.3 948.2l1.8-.4 1.4-1 .8-1.3 .4-1.7-.2-2.8-.7-5.8-.8-2.9-1.1-2.5-1.4-2.4-1.7-2.1-2.3-2-2.5-1.8-2.5-1.4-2.5-.8-2.2-.4-1.5 .3-.6 .6-.4 1 .6 4.4-1 4.3-.2 1.7 .3 2.3 .9 2.5 1.9 2.6 7 7.6 1.5 1 1.7 .8 1.5 .3 1.7 0z" fill="none" stroke="#111111" stroke-width="0.75"/>
<rect x="114.4" y="887.8" width="6.3" height="6.3" fill="#000"/><rect x="138.3" y="924.9" width="6.3" height="6.3" fill="#000"/><rect x="143.3" y="924.4" width="6.3" height="6.3" fill="#000"/><rect x="143.5" y="933.6" width="6.3" height="6.3" fill="#000"/><rect x="150.5" y="940.6" width="6.3" height="6.3" fill="#000"/>
<path d="M93.3 787.75L331.4 1051.45" stroke="#8e8e8e" stroke-width="0.8" fill="none"/>
<path d="M63.75 838.75L297.6 1055" stroke="#6e6e6e" stroke-width="0.8" fill="none"/>
<rect x="63.75" y="787.75" width="268" height="267.25" fill="none" stroke="#262626" stroke-width="1.1"/>
<path d="M73.5 1055v4.5M111.75 1055v4.5M150 1055v4.5M188.25 1055v4.5M226.5 1055v4.5M264.75 1055v4.5M303 1055v4.5M63.75 1046.25h-4.5M63.75 985.5h-4.5M63.75 924.75h-4.5M63.75 864h-4.5M63.75 803.25h-4.5" stroke="#262626" stroke-width="1.1" fill="none"/>
<text x="73.5" y="1071.5" class="tl" text-anchor="middle">-20</text>
<text x="111.75" y="1071.5" class="tl" text-anchor="middle">0</text>
<text x="150" y="1071.5" class="tl" text-anchor="middle">20</text>
<text x="188.25" y="1071.5" class="tl" text-anchor="middle">40</text>
<text x="226.5" y="1071.5" class="tl" text-anchor="middle">60</text>
<text x="264.75" y="1071.5" class="tl" text-anchor="middle">80</text>
<text x="303" y="1071.5" class="tl" text-anchor="middle">100</text>
<text transform="translate(54.25 1046.25) rotate(-90)" class="tl" text-anchor="middle">-100</text>
<text transform="translate(54.25 985.5) rotate(-90)" class="tl" text-anchor="middle">-50</text>
<text transform="translate(54.25 924.75) rotate(-90)" class="tl" text-anchor="middle">0</text>
<text transform="translate(54.25 864) rotate(-90)" class="tl" text-anchor="middle">50</text>
<text transform="translate(54.25 803.25) rotate(-90)" class="tl" text-anchor="middle">100</text>
<text x="199.55" y="1085.5" class="al" text-anchor="middle">average dE(φ )</text>
<text transform="translate(34.75 921.38) rotate(-90)" class="al" text-anchor="middle">δdF(φ )</text>
<text x="197.75" y="771.45" class="ti" text-anchor="middle">1PRW N-lobe</text>
<path d="M426.25 787.75V1055M464.5 787.75V1055M502.75 787.75V1055M541 787.75V1055M579.25 787.75V1055M617.5 787.75V1055M655.75 787.75V1055M416.5 1046.25H684.5M416.5 985.5H684.5M416.5 924.75H684.5M416.5 864H684.5M416.5 803.25H684.5" stroke="#eeeeee" stroke-width="0.8" fill="none"/>
<path d="M508.7 966l3.5-.7 3.3-1.2 3.2-1.9 2.8-2.2 2.6-2.8 2.2-3.2 1.7-3.3 1.2-3.8 .9-4.9 .2-5.2-.3-4.8-1.3-9-.4-3.8 .1-4.2 .7-9.2 .2-4.6-.4-5-.9-4.4-1-3-1.1-2.6-1.5-2.4-1.7-2.3-2.2-2.2-5.7-5-5.8-5.6-4.5-4.1-2.5-2.8-2-3.9-3.8-10.4-2.2-5.2-2.8-5-3-4.1-3.2-3.1-1.5-1-1.7-.9-2.3-.7-4.3-.6-2.7-.6-1.5 0-.8 .4-.7 .8-1 2.3-3.7 14.7-2.1 9.5-1 3.2-1.7 3.2-3.9 4.4-1.6 2.3-1.3 3.1-.5 3.8 .1 4.8 1 5.6 1.4 5.3 3.9 11.5 1.4 6 2.5 22.8 .4 9.2 .6 3.3 .7 2 .9 2 1.2 2 1.4 1.8 1.8 1.8 2 1.6 4.5 2.9 6.5 2.9 9.5 3.8 4.3 1.5 3 .8 3 .4 3 .2 2.7-.2z" fill="#e4e4e4" stroke="none"/>
<path d="M506.8 961l3-.6 3-1.1 2.7-1.5 2.5-2 2.2-2.3 1.9-2.7 1.5-3 1.2-3.3 .9-4.5 .3-4.8-.7-16.2 .2-4 .9-8.8 .2-4.2-.2-4-.7-3.5-.8-2.7-1.1-2.8-1.6-2.6-1.7-2.2-2.3-2.1-10.2-8.7-5.7-4.4-2.1-2.2-1-1.7-1-2.3-3.4-10.3-1.9-5-2.4-4.6-2.5-3.7-2.8-2.9-2.7-1.8-2.7-.8-1.6-.1-1.4 .2-2.3 .9-2 1.7-1.7 2.6-1.6 3.1-1.1 3.4-.9 3.5-2.1 11.2-.8 3.6-1.1 3.2-3.3 6.8-.7 2.2-.3 2.5 0 4 .6 4.5 1 4.2 3.2 10.8 1.1 6 1.2 11.8 1.4 10.2 .1 2.8-.2 6 .4 3.4 .6 1.8 .8 1.8 1.1 1.7 1.2 1.5 3.1 2.8 4.2 2.4 5.8 2.3 12.5 3.7 5 .9 4.8-.1z" fill="#d2d2d2" stroke="none"/>
<path d="M503.2 955.2l2.8-.3 2.8-.8 2.3-1.1 2.2-1.5 2.1-2 1.7-2.3 1.5-2.4 1.2-3 .9-3.6 .6-3.7 .4-15.3 1.6-13.4 0-4.8-.6-4-.8-2.8-1.2-2.7-1.5-2.3-2-2.2-2.7-2.2-7-5.2-2.7-1.8-4.8-2.3-2-1.8-1.1-1.7-.9-2.3-2.7-10.2-1.5-4.6-1.6-3.6-1.7-3.3-2.3-3.2-2.5-2.3-1.5-.8-1.2-.5-1.2-.1-1.3 .1-1.3 .4-1 .5-2 1.9-1.7 2.8-1.5 4-1.2 5.7-1.6 14-1.8 9.3-.4 3.4 0 3 .3 3.3 3.3 16 .5 4 .8 10.7 1.6 10.3 .2 3-.4 5.7 .3 2.6 1 2.7 1.8 2.5 2.6 2.2 3 1.7 4.8 1.6 8 1.7 5.2 .9 4 .2z" fill="#c6c6c6" stroke="none"/>
<path d="M502.8 951.8l2.4-.5 2.3-.7 2.3-1.2 1.9-1.4 1.8-1.8 1.5-2.1 1.2-2.3 1.1-2.6 .8-3.2 .6-3.5 .9-13.5 1.6-12.2 .1-4.8-.5-4-1-3-1.3-2.5-1.8-2.3-2.4-2.2-4.5-3.2-3.8-2.3-3-1.3-5-1.3-1.1-.7-.9-.9-.9-1.5-.8-2.3-2.1-10-1.2-4.7-1.2-3.7-1.6-3.2-2.2-3.5-2.2-2.3-1.3-.8-1.3-.5-1.2-.1-1 .1-1.2 .5-1 .6-1.8 2.1-1.5 3-1.1 3.5-.6 3.3-.4 3.7-.6 12-.8 10.5 0 3.2 .3 3.6 2.6 14.7 1 14.5 1.9 11 .1 2.5-.1 4.7 .2 2.3 .9 2.3 1.5 2 2.1 1.6 2.7 1.4 4.3 1.2 7.3 1.3 4.4 .5 3.6 0z" fill="#bdbdbd" stroke="none"/>
<path d="M509.8 970.5l4-.7 3.7-1.4 3.6-1.9 3.4-2.6 3.1-3.1 2.5-3.6 2-3.7 1.3-4 .6-2.7 .3-3 .1-6.6-.6-5.4-2.2-9.6-.6-4.1-.1-4.3 .6-9 0-4.8-.4-5-.9-4.5-1-3.1-1.2-2.9-1.5-2.7-1.7-2.4-2.6-2.7-7-6.4-9.6-10.1-2.1-2.6-2-3.8-4-10.4-2.3-5.2-2.8-5-3-4.2-3.3-3.2-3.3-2.3-6-2.2-4-2-1.3-.2-1.3 0-1.4 .7-1.3 1.2-1 1.6-.9 2.2-.8 3.2-1 6.8-.9 4.4-2 8.6-1.3 3.7-.8 1.6-1.2 1.4-5.3 3.7-2.3 2.6-1 1.7-.8 2-.6 2.3-.3 2.4 0 2.8 .1 3 1.3 6.8 1.8 6.2 4.6 12.8 1.6 6 1 8.7 .5 13.3 2.3 12.7 .8 2.5 1.1 2.5 1.3 2.3 1.5 2.1 1.8 1.9 2.1 2 2.4 1.8 2.7 1.6 3.8 2.1 11.5 5.7 6.3 2.6 3.7 1.1 3.5 .7 3.5 .2 3.3-.1zM509.8 968.2l3.7-.8 3.5-1.3 3.2-1.9 3.1-2.4 2.8-3 2.2-3.3 1.8-3.5 1.3-4 .9-5.2 .1-5.8-.5-5.2-1.7-9-.5-4 0-4.3 .6-9.3 .1-4.4-.3-5-1-4.8-1-3-1.2-2.8-1.4-2.4-1.7-2.4-2.6-2.6-6.4-5.8-5-5.2-4.9-4.6-2-2.4-2.1-4-4-10.6-2.3-5.3-2.7-4.9-3-4.1-3-2.9-3.3-2.1-2-.8-4.3-1.2-4-1.8-1-.1-1 .1-1 .5-1 1-.8 1.4-.6 1.8-2 10.7-2.9 12.7-1.2 3.8-.9 2-1 1.3-4.8 4.2-1.9 2.5-.9 1.6-.6 1.9-.7 4.3 .1 5.2 1.2 6.2 1.7 5.8 4.1 11.8 1.5 6.2 .7 5.2 2.3 25.6 .8 4.4 .7 2.3 1.1 2.3 1.4 2.2 1.5 2 1.8 1.8 2 1.7 5 3.2 4 2 10.7 4.8 6.3 2.4 3.4 .9 3.3 .5 3.3 .2 3-.2zM508.7 966l3.5-.7 3.3-1.2 3.2-1.9 2.8-2.2 2.6-2.8 2.2-3.2 1.7-3.3 1.2-3.8 .9-4.9 .2-5.2-.3-4.8-1.3-9-.4-3.8 .1-4.2 .7-9.2 .2-4.6-.4-5-.9-4.4-1-3-1.1-2.6-1.5-2.4-1.7-2.3-2.2-2.2-5.7-5-5.8-5.6-4.5-4.1-2.5-2.8-2-3.9-3.8-10.4-2.2-5.2-2.8-5-3-4.1-3.2-3.1-1.5-1-1.7-.9-2.3-.7-4.3-.6-2.7-.6-1.5 0-.8 .4-.7 .8-1 2.3-3.7 14.7-2.1 9.5-1 3.2-1.7 3.2-3.9 4.4-1.6 2.3-1.3 3.1-.5 3.8 .1 4.8 1 5.6 1.4 5.3 3.9 11.5 1.4 6 2.5 22.8 .4 9.2 .6 3.3 .7 2 .9 2 1.2 2 1.4 1.8 1.8 1.8 2 1.6 4.5 2.9 6.5 2.9 9.5 3.8 4.3 1.5 3 .8 3 .4 3 .2 2.7-.2zM505.6 963.8l3.4-.4 3.5-.9 3.3-1.5 2.8-2 2.6-2.5 2.3-2.9 1.9-3.4 1.4-3.4 1-4.8 .4-5.5-.1-4.5-1.2-12.2 .1-4.3 .8-8.7 .2-4.3-.2-4.5-.7-4.2-.9-3-1.2-3-1.5-2.6-1.7-2.3-2.6-2.4-5-4.2-6-5.6-4.7-4-2.4-2.7-1-1.8-1-2.2-3.5-10-2.1-5.1-2.5-4.8-2.8-3.9-1.5-1.7-1.7-1.5-1.5-1.1-1.7-.8-1.6-.5-1.7-.3-1.7 .1-2 .3-1.8 .5-1.5 1.1-1 1.5-1.3 2.5-1.6 4.5-1.3 4.2-2.5 12-.9 3.5-1.5 3.3-3.1 4.4-1.2 2-1 2.8-.4 3 0 4.5 .8 5 1.3 4.8 3.5 11.2 1.3 6 1.3 12.7 1.3 9.6 .1 8.7 .4 3.5 .6 2 .7 1.8 1.1 1.7 1.3 1.7 3.1 3.1 4 2.6 5.7 2.6 13.3 4.7 5.3 1.2 4.7 .4zM506.8 961l3-.6 3-1.1 2.7-1.5 2.5-2 2.2-2.3 1.9-2.7 1.5-3 1.2-3.3 .9-4.5 .3-4.8-.7-16.2 .2-4 .9-8.8 .2-4.2-.2-4-.7-3.5-.8-2.7-1.1-2.8-1.6-2.6-1.7-2.2-2.3-2.1-10.2-8.7-5.7-4.4-2.1-2.2-1-1.7-1-2.3-3.4-10.3-1.9-5-2.4-4.6-2.5-3.7-2.8-2.9-2.7-1.8-2.7-.8-1.6-.1-1.4 .2-2.3 .9-2 1.7-1.7 2.6-1.6 3.1-1.1 3.4-.9 3.5-2.1 11.2-.8 3.6-1.1 3.2-3.3 6.8-.7 2.2-.3 2.5 0 4 .6 4.5 1 4.2 3.2 10.8 1.1 6 1.2 11.8 1.4 10.2 .1 2.8-.2 6 .4 3.4 .6 1.8 .8 1.8 1.1 1.7 1.2 1.5 3.1 2.8 4.2 2.4 5.8 2.3 12.5 3.7 5 .9 4.8-.1zM505.3 958.2l2.9-.5 2.8-.9 2.5-1.3 2.3-1.7 2.2-2.3 1.8-2.5 1.4-2.8 1.1-3 .9-3.7 .5-4 .1-4-.2-12.5 1.4-14.5 0-4.5-.7-4.2-.8-3-1.3-2.8-1.4-2.4-1.8-2-2.3-2.1-8.9-7.2-6.8-4.5-2-2.2-1-1.8-.8-2-3.2-10.3-1.8-4.8-2.2-4.7-2.5-3.7-2.3-2.5-2.4-1.7-2.6-.9-2.4 .1-2.3 .9-2.1 1.8-1.8 2.8-1.6 3.5-1 3.2-.7 3.5-2.3 14.4-.8 3.1-2.2 6.5-.7 4 0 3.8 .5 4 3.4 13.4 1.1 5.8 1 11.8 1.6 10.7 .1 2.7-.4 5.8 .4 3 1.2 3.2 2 3 3 2.5 3.6 2 5.4 2 11 2.8 4.8 .8 4.2 0zM503.2 955.2l2.8-.3 2.8-.8 2.3-1.1 2.2-1.5 2.1-2 1.7-2.3 1.5-2.4 1.2-3 .9-3.6 .6-3.7 .4-15.3 1.6-13.4 0-4.8-.6-4-.8-2.8-1.2-2.7-1.5-2.3-2-2.2-2.7-2.2-7-5.2-2.7-1.8-4.8-2.3-2-1.8-1.1-1.7-.9-2.3-2.7-10.2-1.5-4.6-1.6-3.6-1.7-3.3-2.3-3.2-2.5-2.3-1.5-.8-1.2-.5-1.2-.1-1.3 .1-1.3 .4-1 .5-2 1.9-1.7 2.8-1.5 4-1.2 5.7-1.6 14-1.8 9.3-.4 3.4 0 3 .3 3.3 3.3 16 .5 4 .8 10.7 1.6 10.3 .2 3-.4 5.7 .3 2.6 1 2.7 1.8 2.5 2.6 2.2 3 1.7 4.8 1.6 8 1.7 5.2 .9 4 .2zM502.8 951.8l2.4-.5 2.3-.7 2.3-1.2 1.9-1.4 1.8-1.8 1.5-2.1 1.2-2.3 1.1-2.6 .8-3.2 .6-3.5 .9-13.5 1.6-12.2 .1-4.8-.5-4-1-3-1.3-2.5-1.8-2.3-2.4-2.2-4.5-3.2-3.8-2.3-3-1.3-5-1.3-1.1-.7-.9-.9-.9-1.5-.8-2.3-2.1-10-1.2-4.7-1.2-3.7-1.6-3.2-2.2-3.5-2.2-2.3-1.3-.8-1.3-.5-1.2-.1-1 .1-1.2 .5-1 .6-1.8 2.1-1.5 3-1.1 3.5-.6 3.3-.4 3.7-.6 12-.8 10.5 0 3.2 .3 3.6 2.6 14.7 1 14.5 1.9 11 .1 2.5-.1 4.7 .2 2.3 .9 2.3 1.5 2 2.1 1.6 2.7 1.4 4.3 1.2 7.3 1.3 4.4 .5 3.6 0zM501.1 947.8l2.4-.4 2-.7 1.9-.9 1.8-1.3 1.5-1.5 1.3-1.8 1.2-2.1 1-2.3 .9-3 .7-3.3 1.3-11.7 1.6-10.6 .2-4.4-.5-4-1.2-3.6-2-2.9-2.7-2.5-4-2.6-2.7-1.3-2.6-.7-2.7-.1-4 .7-1.3 .1-1.2-.3-1-.8-.9-1.6-.6-2.1-1.5-14.3-.9-4.6-1.2-3.7-1.8-3.7-2.1-2.7-1.1-.9-1.1-.5-1-.2-1 .1-1.3 .6-1.3 1.2-1 1.6-.8 2-.6 2.5-.5 2.7-.3 7 .8 19.8 1.8 16.2 .5 15 .6 4.3 2 8.7 .9 6.3 .7 2 1 1.5 1.5 1.2 2.2 1.2 3.2 1 4.8 .9 3.8 .5 3.2 0zM482.9 880.8l.6-.3 .7-.8 1.1-2.5 .6-3.4 0-4-.6-3.6-1.1-2.6-.7-1.2-.7-.8-.8-.4-.8-.1-.7 .4-.5 .4-1 2.1-.5 3 .1 3.2 .6 4 1 3.6 1.3 2.2 .7 .6 .6 .2zM500.7 942.5l3.1-.9 2.7-1.8 2.2-2.6 1.7-3.2 1.1-3.1 .9-3.9 2.6-15.3 .5-4.2 .1-3-.4-2.7-.8-2.3-1.2-2-1.7-1.8-2.3-1.6-2.4-1.2-2.6-.5-1.7 .1-1.7 .5-1.8 1-3.5 2.4-2.3 1-2.4 .2-4.3-.6-1 .2-.7 .5-1.1 1.5-.8 3-.8 5-.7 6.8-.1 6 .7 5.5 .8 3 1.2 3.3 1.2 2.9 1.4 2.3 1.1 1.5 1.3 1.2 1.5 1 1.7 .8 2 .6 2.3 .4 2 .2 2-.2zM499.1 934.5l1.7-.6 1.4-1 1.3-1.4 1.3-2 1.7-4.6 2.3-9.6 .8-5.3-.1-3.5-.5-1.5-.8-1.2-1-.9-1.2-.5-1.5 .1-1.7 .8-5.6 5.2-5.8 4-1.2 1.2-.8 1.3-.7 1.5-.5 1.7-.4 3 .3 3 .8 3 1.4 2.8 1.8 2.2 2.1 1.6 2.3 .8 2.5-.1z" fill="none" stroke="#111111" stroke-width="0.92"/>
<rect x="478.0" y="864.4" width="6.3" height="6.3" fill="#000"/><rect x="505.6" y="896.5" width="6.3" height="6.3" fill="#000"/><rect x="493.9" y="917.6" width="6.3" height="6.3" fill="#000"/><rect x="500.8" y="922.8" width="6.3" height="6.3" fill="#000"/><rect x="501.1" y="926.5" width="6.3" height="6.3" fill="#000"/><rect x="484.0" y="925.9" width="6.3" height="6.3" fill="#000"/>
<path d="M446.05 787.75L684.15 1051.45" stroke="#8e8e8e" stroke-width="0.8" fill="none"/>
<path d="M416.5 838.75L650.35 1055" stroke="#6e6e6e" stroke-width="0.8" fill="none"/>
<rect x="416.5" y="787.75" width="268" height="267.25" fill="none" stroke="#262626" stroke-width="1.1"/>
<path d="M426.25 1055v4.5M464.5 1055v4.5M502.75 1055v4.5M541 1055v4.5M579.25 1055v4.5M617.5 1055v4.5M655.75 1055v4.5M416.5 1046.25h-4.5M416.5 985.5h-4.5M416.5 924.75h-4.5M416.5 864h-4.5M416.5 803.25h-4.5" stroke="#262626" stroke-width="1.1" fill="none"/>
<text x="426.25" y="1071.5" class="tl" text-anchor="middle">-20</text>
<text x="464.5" y="1071.5" class="tl" text-anchor="middle">0</text>
<text x="502.75" y="1071.5" class="tl" text-anchor="middle">20</text>
<text x="541" y="1071.5" class="tl" text-anchor="middle">40</text>
<text x="579.25" y="1071.5" class="tl" text-anchor="middle">60</text>
<text x="617.5" y="1071.5" class="tl" text-anchor="middle">80</text>
<text x="655.75" y="1071.5" class="tl" text-anchor="middle">100</text>
<text transform="translate(407 1046.25) rotate(-90)" class="tl" text-anchor="middle">-100</text>
<text transform="translate(407 985.5) rotate(-90)" class="tl" text-anchor="middle">-50</text>
<text transform="translate(407 924.75) rotate(-90)" class="tl" text-anchor="middle">0</text>
<text transform="translate(407 864) rotate(-90)" class="tl" text-anchor="middle">50</text>
<text transform="translate(407 803.25) rotate(-90)" class="tl" text-anchor="middle">100</text>
<text x="552.3" y="1085.5" class="al" text-anchor="middle">average dE(φ )</text>
<text transform="translate(387.5 921.38) rotate(-90)" class="al" text-anchor="middle">δdF(φ )</text>
<text x="550.5" y="771.45" class="ti" text-anchor="middle">1PRW C-lobe</text>
<text x="-1.8" y="23.6" class="pl" style="stroke:#000;stroke-width:0.5px">a</text>
<text x="-1.5" y="408.3" class="pl">b</text>
<text x="-1.2" y="779.5" class="pl" style="font-size:45.5px;stroke:#000;stroke-width:0.3px">c</text>
</svg></body></html>
